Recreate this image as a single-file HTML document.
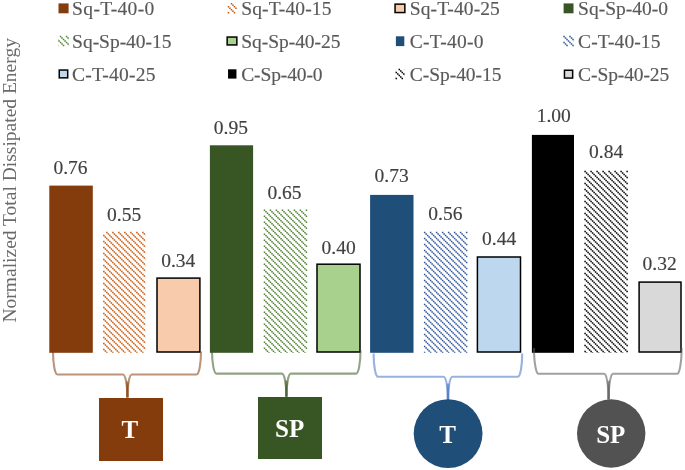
<!DOCTYPE html>
<html><head><meta charset="utf-8"><style>html,body{margin:0;padding:0;background:#fff;overflow:hidden;width:685px;height:470px}svg{display:block;will-change:transform}</style></head>
<body><svg width="685" height="470" viewBox="0 0 685 470" font-family="Liberation Serif">
<defs></defs>
<rect width="685" height="470" fill="#fff"/>
<rect x="49.3" y="185.6" width="43.50" height="167.20" fill="#843C0C"/>
<text x="70.5" y="173.90" text-anchor="middle" font-size="19.5" fill="#404040" stroke="#404040" stroke-width="0.15">0.76</text>
<path fill="#C55A11" d="M106.11 231.83h1.50v1.50h-1.50zM112.11 231.83h1.50v1.50h-1.50zM118.11 231.83h1.50v1.50h-1.50zM124.11 231.83h1.50v1.50h-1.50zM130.11 231.83h1.50v1.50h-1.50zM136.11 231.83h1.50v1.50h-1.50zM142.11 231.83h1.50v1.50h-1.50zM107.61 233.33h1.50v1.50h-1.50zM113.61 233.33h1.50v1.50h-1.50zM119.61 233.33h1.50v1.50h-1.50zM125.61 233.33h1.50v1.50h-1.50zM131.61 233.33h1.50v1.50h-1.50zM137.61 233.33h1.50v1.50h-1.50zM143.61 233.33h1.50v1.50h-1.50zM103.11 234.83h1.50v1.50h-1.50zM109.11 234.83h1.50v1.50h-1.50zM115.11 234.83h1.50v1.50h-1.50zM121.11 234.83h1.50v1.50h-1.50zM127.11 234.83h1.50v1.50h-1.50zM133.11 234.83h1.50v1.50h-1.50zM139.11 234.83h1.50v1.50h-1.50zM145.11 234.83h0.19v1.50h-0.19zM104.61 236.33h1.50v1.50h-1.50zM110.61 236.33h1.50v1.50h-1.50zM116.61 236.33h1.50v1.50h-1.50zM122.61 236.33h1.50v1.50h-1.50zM128.61 236.33h1.50v1.50h-1.50zM134.61 236.33h1.50v1.50h-1.50zM140.61 236.33h1.50v1.50h-1.50zM106.11 237.83h1.50v1.50h-1.50zM112.11 237.83h1.50v1.50h-1.50zM118.11 237.83h1.50v1.50h-1.50zM124.11 237.83h1.50v1.50h-1.50zM130.11 237.83h1.50v1.50h-1.50zM136.11 237.83h1.50v1.50h-1.50zM142.11 237.83h1.50v1.50h-1.50zM107.61 239.33h1.50v1.50h-1.50zM113.61 239.33h1.50v1.50h-1.50zM119.61 239.33h1.50v1.50h-1.50zM125.61 239.33h1.50v1.50h-1.50zM131.61 239.33h1.50v1.50h-1.50zM137.61 239.33h1.50v1.50h-1.50zM143.61 239.33h1.50v1.50h-1.50zM103.11 240.83h1.50v1.50h-1.50zM109.11 240.83h1.50v1.50h-1.50zM115.11 240.83h1.50v1.50h-1.50zM121.11 240.83h1.50v1.50h-1.50zM127.11 240.83h1.50v1.50h-1.50zM133.11 240.83h1.50v1.50h-1.50zM139.11 240.83h1.50v1.50h-1.50zM145.11 240.83h0.19v1.50h-0.19zM104.61 242.33h1.50v1.50h-1.50zM110.61 242.33h1.50v1.50h-1.50zM116.61 242.33h1.50v1.50h-1.50zM122.61 242.33h1.50v1.50h-1.50zM128.61 242.33h1.50v1.50h-1.50zM134.61 242.33h1.50v1.50h-1.50zM140.61 242.33h1.50v1.50h-1.50zM106.11 243.83h1.50v1.50h-1.50zM112.11 243.83h1.50v1.50h-1.50zM118.11 243.83h1.50v1.50h-1.50zM124.11 243.83h1.50v1.50h-1.50zM130.11 243.83h1.50v1.50h-1.50zM136.11 243.83h1.50v1.50h-1.50zM142.11 243.83h1.50v1.50h-1.50zM107.61 245.33h1.50v1.50h-1.50zM113.61 245.33h1.50v1.50h-1.50zM119.61 245.33h1.50v1.50h-1.50zM125.61 245.33h1.50v1.50h-1.50zM131.61 245.33h1.50v1.50h-1.50zM137.61 245.33h1.50v1.50h-1.50zM143.61 245.33h1.50v1.50h-1.50zM103.11 246.83h1.50v1.50h-1.50zM109.11 246.83h1.50v1.50h-1.50zM115.11 246.83h1.50v1.50h-1.50zM121.11 246.83h1.50v1.50h-1.50zM127.11 246.83h1.50v1.50h-1.50zM133.11 246.83h1.50v1.50h-1.50zM139.11 246.83h1.50v1.50h-1.50zM145.11 246.83h0.19v1.50h-0.19zM104.61 248.33h1.50v1.50h-1.50zM110.61 248.33h1.50v1.50h-1.50zM116.61 248.33h1.50v1.50h-1.50zM122.61 248.33h1.50v1.50h-1.50zM128.61 248.33h1.50v1.50h-1.50zM134.61 248.33h1.50v1.50h-1.50zM140.61 248.33h1.50v1.50h-1.50zM106.11 249.83h1.50v1.50h-1.50zM112.11 249.83h1.50v1.50h-1.50zM118.11 249.83h1.50v1.50h-1.50zM124.11 249.83h1.50v1.50h-1.50zM130.11 249.83h1.50v1.50h-1.50zM136.11 249.83h1.50v1.50h-1.50zM142.11 249.83h1.50v1.50h-1.50zM107.61 251.33h1.50v1.50h-1.50zM113.61 251.33h1.50v1.50h-1.50zM119.61 251.33h1.50v1.50h-1.50zM125.61 251.33h1.50v1.50h-1.50zM131.61 251.33h1.50v1.50h-1.50zM137.61 251.33h1.50v1.50h-1.50zM143.61 251.33h1.50v1.50h-1.50zM103.11 252.83h1.50v1.50h-1.50zM109.11 252.83h1.50v1.50h-1.50zM115.11 252.83h1.50v1.50h-1.50zM121.11 252.83h1.50v1.50h-1.50zM127.11 252.83h1.50v1.50h-1.50zM133.11 252.83h1.50v1.50h-1.50zM139.11 252.83h1.50v1.50h-1.50zM145.11 252.83h0.19v1.50h-0.19zM104.61 254.33h1.50v1.50h-1.50zM110.61 254.33h1.50v1.50h-1.50zM116.61 254.33h1.50v1.50h-1.50zM122.61 254.33h1.50v1.50h-1.50zM128.61 254.33h1.50v1.50h-1.50zM134.61 254.33h1.50v1.50h-1.50zM140.61 254.33h1.50v1.50h-1.50zM106.11 255.83h1.50v1.50h-1.50zM112.11 255.83h1.50v1.50h-1.50zM118.11 255.83h1.50v1.50h-1.50zM124.11 255.83h1.50v1.50h-1.50zM130.11 255.83h1.50v1.50h-1.50zM136.11 255.83h1.50v1.50h-1.50zM142.11 255.83h1.50v1.50h-1.50zM107.61 257.33h1.50v1.50h-1.50zM113.61 257.33h1.50v1.50h-1.50zM119.61 257.33h1.50v1.50h-1.50zM125.61 257.33h1.50v1.50h-1.50zM131.61 257.33h1.50v1.50h-1.50zM137.61 257.33h1.50v1.50h-1.50zM143.61 257.33h1.50v1.50h-1.50zM103.11 258.83h1.50v1.50h-1.50zM109.11 258.83h1.50v1.50h-1.50zM115.11 258.83h1.50v1.50h-1.50zM121.11 258.83h1.50v1.50h-1.50zM127.11 258.83h1.50v1.50h-1.50zM133.11 258.83h1.50v1.50h-1.50zM139.11 258.83h1.50v1.50h-1.50zM145.11 258.83h0.19v1.50h-0.19zM104.61 260.33h1.50v1.50h-1.50zM110.61 260.33h1.50v1.50h-1.50zM116.61 260.33h1.50v1.50h-1.50zM122.61 260.33h1.50v1.50h-1.50zM128.61 260.33h1.50v1.50h-1.50zM134.61 260.33h1.50v1.50h-1.50zM140.61 260.33h1.50v1.50h-1.50zM106.11 261.83h1.50v1.50h-1.50zM112.11 261.83h1.50v1.50h-1.50zM118.11 261.83h1.50v1.50h-1.50zM124.11 261.83h1.50v1.50h-1.50zM130.11 261.83h1.50v1.50h-1.50zM136.11 261.83h1.50v1.50h-1.50zM142.11 261.83h1.50v1.50h-1.50zM107.61 263.33h1.50v1.50h-1.50zM113.61 263.33h1.50v1.50h-1.50zM119.61 263.33h1.50v1.50h-1.50zM125.61 263.33h1.50v1.50h-1.50zM131.61 263.33h1.50v1.50h-1.50zM137.61 263.33h1.50v1.50h-1.50zM143.61 263.33h1.50v1.50h-1.50zM103.11 264.83h1.50v1.50h-1.50zM109.11 264.83h1.50v1.50h-1.50zM115.11 264.83h1.50v1.50h-1.50zM121.11 264.83h1.50v1.50h-1.50zM127.11 264.83h1.50v1.50h-1.50zM133.11 264.83h1.50v1.50h-1.50zM139.11 264.83h1.50v1.50h-1.50zM145.11 264.83h0.19v1.50h-0.19zM104.61 266.33h1.50v1.50h-1.50zM110.61 266.33h1.50v1.50h-1.50zM116.61 266.33h1.50v1.50h-1.50zM122.61 266.33h1.50v1.50h-1.50zM128.61 266.33h1.50v1.50h-1.50zM134.61 266.33h1.50v1.50h-1.50zM140.61 266.33h1.50v1.50h-1.50zM106.11 267.83h1.50v1.50h-1.50zM112.11 267.83h1.50v1.50h-1.50zM118.11 267.83h1.50v1.50h-1.50zM124.11 267.83h1.50v1.50h-1.50zM130.11 267.83h1.50v1.50h-1.50zM136.11 267.83h1.50v1.50h-1.50zM142.11 267.83h1.50v1.50h-1.50zM107.61 269.33h1.50v1.50h-1.50zM113.61 269.33h1.50v1.50h-1.50zM119.61 269.33h1.50v1.50h-1.50zM125.61 269.33h1.50v1.50h-1.50zM131.61 269.33h1.50v1.50h-1.50zM137.61 269.33h1.50v1.50h-1.50zM143.61 269.33h1.50v1.50h-1.50zM103.11 270.83h1.50v1.50h-1.50zM109.11 270.83h1.50v1.50h-1.50zM115.11 270.83h1.50v1.50h-1.50zM121.11 270.83h1.50v1.50h-1.50zM127.11 270.83h1.50v1.50h-1.50zM133.11 270.83h1.50v1.50h-1.50zM139.11 270.83h1.50v1.50h-1.50zM145.11 270.83h0.19v1.50h-0.19zM104.61 272.33h1.50v1.50h-1.50zM110.61 272.33h1.50v1.50h-1.50zM116.61 272.33h1.50v1.50h-1.50zM122.61 272.33h1.50v1.50h-1.50zM128.61 272.33h1.50v1.50h-1.50zM134.61 272.33h1.50v1.50h-1.50zM140.61 272.33h1.50v1.50h-1.50zM106.11 273.83h1.50v1.50h-1.50zM112.11 273.83h1.50v1.50h-1.50zM118.11 273.83h1.50v1.50h-1.50zM124.11 273.83h1.50v1.50h-1.50zM130.11 273.83h1.50v1.50h-1.50zM136.11 273.83h1.50v1.50h-1.50zM142.11 273.83h1.50v1.50h-1.50zM107.61 275.33h1.50v1.50h-1.50zM113.61 275.33h1.50v1.50h-1.50zM119.61 275.33h1.50v1.50h-1.50zM125.61 275.33h1.50v1.50h-1.50zM131.61 275.33h1.50v1.50h-1.50zM137.61 275.33h1.50v1.50h-1.50zM143.61 275.33h1.50v1.50h-1.50zM103.11 276.83h1.50v1.50h-1.50zM109.11 276.83h1.50v1.50h-1.50zM115.11 276.83h1.50v1.50h-1.50zM121.11 276.83h1.50v1.50h-1.50zM127.11 276.83h1.50v1.50h-1.50zM133.11 276.83h1.50v1.50h-1.50zM139.11 276.83h1.50v1.50h-1.50zM145.11 276.83h0.19v1.50h-0.19zM104.61 278.33h1.50v1.50h-1.50zM110.61 278.33h1.50v1.50h-1.50zM116.61 278.33h1.50v1.50h-1.50zM122.61 278.33h1.50v1.50h-1.50zM128.61 278.33h1.50v1.50h-1.50zM134.61 278.33h1.50v1.50h-1.50zM140.61 278.33h1.50v1.50h-1.50zM106.11 279.83h1.50v1.50h-1.50zM112.11 279.83h1.50v1.50h-1.50zM118.11 279.83h1.50v1.50h-1.50zM124.11 279.83h1.50v1.50h-1.50zM130.11 279.83h1.50v1.50h-1.50zM136.11 279.83h1.50v1.50h-1.50zM142.11 279.83h1.50v1.50h-1.50zM107.61 281.33h1.50v1.50h-1.50zM113.61 281.33h1.50v1.50h-1.50zM119.61 281.33h1.50v1.50h-1.50zM125.61 281.33h1.50v1.50h-1.50zM131.61 281.33h1.50v1.50h-1.50zM137.61 281.33h1.50v1.50h-1.50zM143.61 281.33h1.50v1.50h-1.50zM103.11 282.83h1.50v1.50h-1.50zM109.11 282.83h1.50v1.50h-1.50zM115.11 282.83h1.50v1.50h-1.50zM121.11 282.83h1.50v1.50h-1.50zM127.11 282.83h1.50v1.50h-1.50zM133.11 282.83h1.50v1.50h-1.50zM139.11 282.83h1.50v1.50h-1.50zM145.11 282.83h0.19v1.50h-0.19zM104.61 284.33h1.50v1.50h-1.50zM110.61 284.33h1.50v1.50h-1.50zM116.61 284.33h1.50v1.50h-1.50zM122.61 284.33h1.50v1.50h-1.50zM128.61 284.33h1.50v1.50h-1.50zM134.61 284.33h1.50v1.50h-1.50zM140.61 284.33h1.50v1.50h-1.50zM106.11 285.83h1.50v1.50h-1.50zM112.11 285.83h1.50v1.50h-1.50zM118.11 285.83h1.50v1.50h-1.50zM124.11 285.83h1.50v1.50h-1.50zM130.11 285.83h1.50v1.50h-1.50zM136.11 285.83h1.50v1.50h-1.50zM142.11 285.83h1.50v1.50h-1.50zM107.61 287.33h1.50v1.50h-1.50zM113.61 287.33h1.50v1.50h-1.50zM119.61 287.33h1.50v1.50h-1.50zM125.61 287.33h1.50v1.50h-1.50zM131.61 287.33h1.50v1.50h-1.50zM137.61 287.33h1.50v1.50h-1.50zM143.61 287.33h1.50v1.50h-1.50zM103.11 288.83h1.50v1.50h-1.50zM109.11 288.83h1.50v1.50h-1.50zM115.11 288.83h1.50v1.50h-1.50zM121.11 288.83h1.50v1.50h-1.50zM127.11 288.83h1.50v1.50h-1.50zM133.11 288.83h1.50v1.50h-1.50zM139.11 288.83h1.50v1.50h-1.50zM145.11 288.83h0.19v1.50h-0.19zM104.61 290.33h1.50v1.50h-1.50zM110.61 290.33h1.50v1.50h-1.50zM116.61 290.33h1.50v1.50h-1.50zM122.61 290.33h1.50v1.50h-1.50zM128.61 290.33h1.50v1.50h-1.50zM134.61 290.33h1.50v1.50h-1.50zM140.61 290.33h1.50v1.50h-1.50zM106.11 291.83h1.50v1.50h-1.50zM112.11 291.83h1.50v1.50h-1.50zM118.11 291.83h1.50v1.50h-1.50zM124.11 291.83h1.50v1.50h-1.50zM130.11 291.83h1.50v1.50h-1.50zM136.11 291.83h1.50v1.50h-1.50zM142.11 291.83h1.50v1.50h-1.50zM107.61 293.33h1.50v1.50h-1.50zM113.61 293.33h1.50v1.50h-1.50zM119.61 293.33h1.50v1.50h-1.50zM125.61 293.33h1.50v1.50h-1.50zM131.61 293.33h1.50v1.50h-1.50zM137.61 293.33h1.50v1.50h-1.50zM143.61 293.33h1.50v1.50h-1.50zM103.11 294.83h1.50v1.50h-1.50zM109.11 294.83h1.50v1.50h-1.50zM115.11 294.83h1.50v1.50h-1.50zM121.11 294.83h1.50v1.50h-1.50zM127.11 294.83h1.50v1.50h-1.50zM133.11 294.83h1.50v1.50h-1.50zM139.11 294.83h1.50v1.50h-1.50zM145.11 294.83h0.19v1.50h-0.19zM104.61 296.33h1.50v1.50h-1.50zM110.61 296.33h1.50v1.50h-1.50zM116.61 296.33h1.50v1.50h-1.50zM122.61 296.33h1.50v1.50h-1.50zM128.61 296.33h1.50v1.50h-1.50zM134.61 296.33h1.50v1.50h-1.50zM140.61 296.33h1.50v1.50h-1.50zM106.11 297.83h1.50v1.50h-1.50zM112.11 297.83h1.50v1.50h-1.50zM118.11 297.83h1.50v1.50h-1.50zM124.11 297.83h1.50v1.50h-1.50zM130.11 297.83h1.50v1.50h-1.50zM136.11 297.83h1.50v1.50h-1.50zM142.11 297.83h1.50v1.50h-1.50zM107.61 299.33h1.50v1.50h-1.50zM113.61 299.33h1.50v1.50h-1.50zM119.61 299.33h1.50v1.50h-1.50zM125.61 299.33h1.50v1.50h-1.50zM131.61 299.33h1.50v1.50h-1.50zM137.61 299.33h1.50v1.50h-1.50zM143.61 299.33h1.50v1.50h-1.50zM103.11 300.83h1.50v1.50h-1.50zM109.11 300.83h1.50v1.50h-1.50zM115.11 300.83h1.50v1.50h-1.50zM121.11 300.83h1.50v1.50h-1.50zM127.11 300.83h1.50v1.50h-1.50zM133.11 300.83h1.50v1.50h-1.50zM139.11 300.83h1.50v1.50h-1.50zM145.11 300.83h0.19v1.50h-0.19zM104.61 302.33h1.50v1.50h-1.50zM110.61 302.33h1.50v1.50h-1.50zM116.61 302.33h1.50v1.50h-1.50zM122.61 302.33h1.50v1.50h-1.50zM128.61 302.33h1.50v1.50h-1.50zM134.61 302.33h1.50v1.50h-1.50zM140.61 302.33h1.50v1.50h-1.50zM106.11 303.83h1.50v1.50h-1.50zM112.11 303.83h1.50v1.50h-1.50zM118.11 303.83h1.50v1.50h-1.50zM124.11 303.83h1.50v1.50h-1.50zM130.11 303.83h1.50v1.50h-1.50zM136.11 303.83h1.50v1.50h-1.50zM142.11 303.83h1.50v1.50h-1.50zM107.61 305.33h1.50v1.50h-1.50zM113.61 305.33h1.50v1.50h-1.50zM119.61 305.33h1.50v1.50h-1.50zM125.61 305.33h1.50v1.50h-1.50zM131.61 305.33h1.50v1.50h-1.50zM137.61 305.33h1.50v1.50h-1.50zM143.61 305.33h1.50v1.50h-1.50zM103.11 306.83h1.50v1.50h-1.50zM109.11 306.83h1.50v1.50h-1.50zM115.11 306.83h1.50v1.50h-1.50zM121.11 306.83h1.50v1.50h-1.50zM127.11 306.83h1.50v1.50h-1.50zM133.11 306.83h1.50v1.50h-1.50zM139.11 306.83h1.50v1.50h-1.50zM145.11 306.83h0.19v1.50h-0.19zM104.61 308.33h1.50v1.50h-1.50zM110.61 308.33h1.50v1.50h-1.50zM116.61 308.33h1.50v1.50h-1.50zM122.61 308.33h1.50v1.50h-1.50zM128.61 308.33h1.50v1.50h-1.50zM134.61 308.33h1.50v1.50h-1.50zM140.61 308.33h1.50v1.50h-1.50zM106.11 309.83h1.50v1.50h-1.50zM112.11 309.83h1.50v1.50h-1.50zM118.11 309.83h1.50v1.50h-1.50zM124.11 309.83h1.50v1.50h-1.50zM130.11 309.83h1.50v1.50h-1.50zM136.11 309.83h1.50v1.50h-1.50zM142.11 309.83h1.50v1.50h-1.50zM107.61 311.33h1.50v1.50h-1.50zM113.61 311.33h1.50v1.50h-1.50zM119.61 311.33h1.50v1.50h-1.50zM125.61 311.33h1.50v1.50h-1.50zM131.61 311.33h1.50v1.50h-1.50zM137.61 311.33h1.50v1.50h-1.50zM143.61 311.33h1.50v1.50h-1.50zM103.11 312.83h1.50v1.50h-1.50zM109.11 312.83h1.50v1.50h-1.50zM115.11 312.83h1.50v1.50h-1.50zM121.11 312.83h1.50v1.50h-1.50zM127.11 312.83h1.50v1.50h-1.50zM133.11 312.83h1.50v1.50h-1.50zM139.11 312.83h1.50v1.50h-1.50zM145.11 312.83h0.19v1.50h-0.19zM104.61 314.33h1.50v1.50h-1.50zM110.61 314.33h1.50v1.50h-1.50zM116.61 314.33h1.50v1.50h-1.50zM122.61 314.33h1.50v1.50h-1.50zM128.61 314.33h1.50v1.50h-1.50zM134.61 314.33h1.50v1.50h-1.50zM140.61 314.33h1.50v1.50h-1.50zM106.11 315.83h1.50v1.50h-1.50zM112.11 315.83h1.50v1.50h-1.50zM118.11 315.83h1.50v1.50h-1.50zM124.11 315.83h1.50v1.50h-1.50zM130.11 315.83h1.50v1.50h-1.50zM136.11 315.83h1.50v1.50h-1.50zM142.11 315.83h1.50v1.50h-1.50zM107.61 317.33h1.50v1.50h-1.50zM113.61 317.33h1.50v1.50h-1.50zM119.61 317.33h1.50v1.50h-1.50zM125.61 317.33h1.50v1.50h-1.50zM131.61 317.33h1.50v1.50h-1.50zM137.61 317.33h1.50v1.50h-1.50zM143.61 317.33h1.50v1.50h-1.50zM103.11 318.83h1.50v1.50h-1.50zM109.11 318.83h1.50v1.50h-1.50zM115.11 318.83h1.50v1.50h-1.50zM121.11 318.83h1.50v1.50h-1.50zM127.11 318.83h1.50v1.50h-1.50zM133.11 318.83h1.50v1.50h-1.50zM139.11 318.83h1.50v1.50h-1.50zM145.11 318.83h0.19v1.50h-0.19zM104.61 320.33h1.50v1.50h-1.50zM110.61 320.33h1.50v1.50h-1.50zM116.61 320.33h1.50v1.50h-1.50zM122.61 320.33h1.50v1.50h-1.50zM128.61 320.33h1.50v1.50h-1.50zM134.61 320.33h1.50v1.50h-1.50zM140.61 320.33h1.50v1.50h-1.50zM106.11 321.83h1.50v1.50h-1.50zM112.11 321.83h1.50v1.50h-1.50zM118.11 321.83h1.50v1.50h-1.50zM124.11 321.83h1.50v1.50h-1.50zM130.11 321.83h1.50v1.50h-1.50zM136.11 321.83h1.50v1.50h-1.50zM142.11 321.83h1.50v1.50h-1.50zM107.61 323.33h1.50v1.50h-1.50zM113.61 323.33h1.50v1.50h-1.50zM119.61 323.33h1.50v1.50h-1.50zM125.61 323.33h1.50v1.50h-1.50zM131.61 323.33h1.50v1.50h-1.50zM137.61 323.33h1.50v1.50h-1.50zM143.61 323.33h1.50v1.50h-1.50zM103.11 324.83h1.50v1.50h-1.50zM109.11 324.83h1.50v1.50h-1.50zM115.11 324.83h1.50v1.50h-1.50zM121.11 324.83h1.50v1.50h-1.50zM127.11 324.83h1.50v1.50h-1.50zM133.11 324.83h1.50v1.50h-1.50zM139.11 324.83h1.50v1.50h-1.50zM145.11 324.83h0.19v1.50h-0.19zM104.61 326.33h1.50v1.50h-1.50zM110.61 326.33h1.50v1.50h-1.50zM116.61 326.33h1.50v1.50h-1.50zM122.61 326.33h1.50v1.50h-1.50zM128.61 326.33h1.50v1.50h-1.50zM134.61 326.33h1.50v1.50h-1.50zM140.61 326.33h1.50v1.50h-1.50zM106.11 327.83h1.50v1.50h-1.50zM112.11 327.83h1.50v1.50h-1.50zM118.11 327.83h1.50v1.50h-1.50zM124.11 327.83h1.50v1.50h-1.50zM130.11 327.83h1.50v1.50h-1.50zM136.11 327.83h1.50v1.50h-1.50zM142.11 327.83h1.50v1.50h-1.50zM107.61 329.33h1.50v1.50h-1.50zM113.61 329.33h1.50v1.50h-1.50zM119.61 329.33h1.50v1.50h-1.50zM125.61 329.33h1.50v1.50h-1.50zM131.61 329.33h1.50v1.50h-1.50zM137.61 329.33h1.50v1.50h-1.50zM143.61 329.33h1.50v1.50h-1.50zM103.11 330.83h1.50v1.50h-1.50zM109.11 330.83h1.50v1.50h-1.50zM115.11 330.83h1.50v1.50h-1.50zM121.11 330.83h1.50v1.50h-1.50zM127.11 330.83h1.50v1.50h-1.50zM133.11 330.83h1.50v1.50h-1.50zM139.11 330.83h1.50v1.50h-1.50zM145.11 330.83h0.19v1.50h-0.19zM104.61 332.33h1.50v1.50h-1.50zM110.61 332.33h1.50v1.50h-1.50zM116.61 332.33h1.50v1.50h-1.50zM122.61 332.33h1.50v1.50h-1.50zM128.61 332.33h1.50v1.50h-1.50zM134.61 332.33h1.50v1.50h-1.50zM140.61 332.33h1.50v1.50h-1.50zM106.11 333.83h1.50v1.50h-1.50zM112.11 333.83h1.50v1.50h-1.50zM118.11 333.83h1.50v1.50h-1.50zM124.11 333.83h1.50v1.50h-1.50zM130.11 333.83h1.50v1.50h-1.50zM136.11 333.83h1.50v1.50h-1.50zM142.11 333.83h1.50v1.50h-1.50zM107.61 335.33h1.50v1.50h-1.50zM113.61 335.33h1.50v1.50h-1.50zM119.61 335.33h1.50v1.50h-1.50zM125.61 335.33h1.50v1.50h-1.50zM131.61 335.33h1.50v1.50h-1.50zM137.61 335.33h1.50v1.50h-1.50zM143.61 335.33h1.50v1.50h-1.50zM103.11 336.83h1.50v1.50h-1.50zM109.11 336.83h1.50v1.50h-1.50zM115.11 336.83h1.50v1.50h-1.50zM121.11 336.83h1.50v1.50h-1.50zM127.11 336.83h1.50v1.50h-1.50zM133.11 336.83h1.50v1.50h-1.50zM139.11 336.83h1.50v1.50h-1.50zM145.11 336.83h0.19v1.50h-0.19zM104.61 338.33h1.50v1.50h-1.50zM110.61 338.33h1.50v1.50h-1.50zM116.61 338.33h1.50v1.50h-1.50zM122.61 338.33h1.50v1.50h-1.50zM128.61 338.33h1.50v1.50h-1.50zM134.61 338.33h1.50v1.50h-1.50zM140.61 338.33h1.50v1.50h-1.50zM106.11 339.83h1.50v1.50h-1.50zM112.11 339.83h1.50v1.50h-1.50zM118.11 339.83h1.50v1.50h-1.50zM124.11 339.83h1.50v1.50h-1.50zM130.11 339.83h1.50v1.50h-1.50zM136.11 339.83h1.50v1.50h-1.50zM142.11 339.83h1.50v1.50h-1.50zM107.61 341.33h1.50v1.50h-1.50zM113.61 341.33h1.50v1.50h-1.50zM119.61 341.33h1.50v1.50h-1.50zM125.61 341.33h1.50v1.50h-1.50zM131.61 341.33h1.50v1.50h-1.50zM137.61 341.33h1.50v1.50h-1.50zM143.61 341.33h1.50v1.50h-1.50zM103.11 342.83h1.50v1.50h-1.50zM109.11 342.83h1.50v1.50h-1.50zM115.11 342.83h1.50v1.50h-1.50zM121.11 342.83h1.50v1.50h-1.50zM127.11 342.83h1.50v1.50h-1.50zM133.11 342.83h1.50v1.50h-1.50zM139.11 342.83h1.50v1.50h-1.50zM145.11 342.83h0.19v1.50h-0.19zM104.61 344.33h1.50v1.50h-1.50zM110.61 344.33h1.50v1.50h-1.50zM116.61 344.33h1.50v1.50h-1.50zM122.61 344.33h1.50v1.50h-1.50zM128.61 344.33h1.50v1.50h-1.50zM134.61 344.33h1.50v1.50h-1.50zM140.61 344.33h1.50v1.50h-1.50zM106.11 345.83h1.50v1.50h-1.50zM112.11 345.83h1.50v1.50h-1.50zM118.11 345.83h1.50v1.50h-1.50zM124.11 345.83h1.50v1.50h-1.50zM130.11 345.83h1.50v1.50h-1.50zM136.11 345.83h1.50v1.50h-1.50zM142.11 345.83h1.50v1.50h-1.50zM107.61 347.33h1.50v1.50h-1.50zM113.61 347.33h1.50v1.50h-1.50zM119.61 347.33h1.50v1.50h-1.50zM125.61 347.33h1.50v1.50h-1.50zM131.61 347.33h1.50v1.50h-1.50zM137.61 347.33h1.50v1.50h-1.50zM143.61 347.33h1.50v1.50h-1.50zM103.11 348.83h1.50v1.50h-1.50zM109.11 348.83h1.50v1.50h-1.50zM115.11 348.83h1.50v1.50h-1.50zM121.11 348.83h1.50v1.50h-1.50zM127.11 348.83h1.50v1.50h-1.50zM133.11 348.83h1.50v1.50h-1.50zM139.11 348.83h1.50v1.50h-1.50zM145.11 348.83h0.19v1.50h-0.19zM104.61 350.33h1.50v1.50h-1.50zM110.61 350.33h1.50v1.50h-1.50zM116.61 350.33h1.50v1.50h-1.50zM122.61 350.33h1.50v1.50h-1.50zM128.61 350.33h1.50v1.50h-1.50zM134.61 350.33h1.50v1.50h-1.50zM140.61 350.33h1.50v1.50h-1.50zM106.11 351.83h1.50v0.97h-1.50zM112.11 351.83h1.50v0.97h-1.50zM118.11 351.83h1.50v0.97h-1.50zM124.11 351.83h1.50v0.97h-1.50zM130.11 351.83h1.50v0.97h-1.50zM136.11 351.83h1.50v0.97h-1.50zM142.11 351.83h1.50v0.97h-1.50z"/>
<text x="124.1" y="221.40" text-anchor="middle" font-size="19.5" fill="#404040" stroke="#404040" stroke-width="0.15">0.55</text>
<rect x="157.00" y="278.10" width="42.90" height="73.90" fill="#F8CBAD" stroke="#000" stroke-width="1.5"/>
<text x="178.2" y="267.00" text-anchor="middle" font-size="19.5" fill="#404040" stroke="#404040" stroke-width="0.15">0.34</text>
<rect x="209.9" y="145.3" width="43.20" height="207.50" fill="#375623"/>
<text x="230.9" y="134.40" text-anchor="middle" font-size="19.5" fill="#404040" stroke="#404040" stroke-width="0.15">0.95</text>
<path fill="#548235" d="M263.72 209.50h1.50v1.47h-1.50zM269.72 209.50h1.50v1.47h-1.50zM275.72 209.50h1.50v1.47h-1.50zM281.72 209.50h1.50v1.47h-1.50zM287.72 209.50h1.50v1.47h-1.50zM293.72 209.50h1.50v1.47h-1.50zM299.72 209.50h1.50v1.47h-1.50zM305.72 209.50h1.48v1.47h-1.48zM265.22 210.97h1.50v1.50h-1.50zM271.22 210.97h1.50v1.50h-1.50zM277.22 210.97h1.50v1.50h-1.50zM283.22 210.97h1.50v1.50h-1.50zM289.22 210.97h1.50v1.50h-1.50zM295.22 210.97h1.50v1.50h-1.50zM301.22 210.97h1.50v1.50h-1.50zM266.72 212.47h1.50v1.50h-1.50zM272.72 212.47h1.50v1.50h-1.50zM278.72 212.47h1.50v1.50h-1.50zM284.72 212.47h1.50v1.50h-1.50zM290.72 212.47h1.50v1.50h-1.50zM296.72 212.47h1.50v1.50h-1.50zM302.72 212.47h1.50v1.50h-1.50zM268.22 213.97h1.50v1.50h-1.50zM274.22 213.97h1.50v1.50h-1.50zM280.22 213.97h1.50v1.50h-1.50zM286.22 213.97h1.50v1.50h-1.50zM292.22 213.97h1.50v1.50h-1.50zM298.22 213.97h1.50v1.50h-1.50zM304.22 213.97h1.50v1.50h-1.50zM263.72 215.47h1.50v1.50h-1.50zM269.72 215.47h1.50v1.50h-1.50zM275.72 215.47h1.50v1.50h-1.50zM281.72 215.47h1.50v1.50h-1.50zM287.72 215.47h1.50v1.50h-1.50zM293.72 215.47h1.50v1.50h-1.50zM299.72 215.47h1.50v1.50h-1.50zM305.72 215.47h1.48v1.50h-1.48zM265.22 216.97h1.50v1.50h-1.50zM271.22 216.97h1.50v1.50h-1.50zM277.22 216.97h1.50v1.50h-1.50zM283.22 216.97h1.50v1.50h-1.50zM289.22 216.97h1.50v1.50h-1.50zM295.22 216.97h1.50v1.50h-1.50zM301.22 216.97h1.50v1.50h-1.50zM266.72 218.47h1.50v1.50h-1.50zM272.72 218.47h1.50v1.50h-1.50zM278.72 218.47h1.50v1.50h-1.50zM284.72 218.47h1.50v1.50h-1.50zM290.72 218.47h1.50v1.50h-1.50zM296.72 218.47h1.50v1.50h-1.50zM302.72 218.47h1.50v1.50h-1.50zM268.22 219.97h1.50v1.50h-1.50zM274.22 219.97h1.50v1.50h-1.50zM280.22 219.97h1.50v1.50h-1.50zM286.22 219.97h1.50v1.50h-1.50zM292.22 219.97h1.50v1.50h-1.50zM298.22 219.97h1.50v1.50h-1.50zM304.22 219.97h1.50v1.50h-1.50zM263.72 221.47h1.50v1.50h-1.50zM269.72 221.47h1.50v1.50h-1.50zM275.72 221.47h1.50v1.50h-1.50zM281.72 221.47h1.50v1.50h-1.50zM287.72 221.47h1.50v1.50h-1.50zM293.72 221.47h1.50v1.50h-1.50zM299.72 221.47h1.50v1.50h-1.50zM305.72 221.47h1.48v1.50h-1.48zM265.22 222.97h1.50v1.50h-1.50zM271.22 222.97h1.50v1.50h-1.50zM277.22 222.97h1.50v1.50h-1.50zM283.22 222.97h1.50v1.50h-1.50zM289.22 222.97h1.50v1.50h-1.50zM295.22 222.97h1.50v1.50h-1.50zM301.22 222.97h1.50v1.50h-1.50zM266.72 224.47h1.50v1.50h-1.50zM272.72 224.47h1.50v1.50h-1.50zM278.72 224.47h1.50v1.50h-1.50zM284.72 224.47h1.50v1.50h-1.50zM290.72 224.47h1.50v1.50h-1.50zM296.72 224.47h1.50v1.50h-1.50zM302.72 224.47h1.50v1.50h-1.50zM268.22 225.97h1.50v1.50h-1.50zM274.22 225.97h1.50v1.50h-1.50zM280.22 225.97h1.50v1.50h-1.50zM286.22 225.97h1.50v1.50h-1.50zM292.22 225.97h1.50v1.50h-1.50zM298.22 225.97h1.50v1.50h-1.50zM304.22 225.97h1.50v1.50h-1.50zM263.72 227.47h1.50v1.50h-1.50zM269.72 227.47h1.50v1.50h-1.50zM275.72 227.47h1.50v1.50h-1.50zM281.72 227.47h1.50v1.50h-1.50zM287.72 227.47h1.50v1.50h-1.50zM293.72 227.47h1.50v1.50h-1.50zM299.72 227.47h1.50v1.50h-1.50zM305.72 227.47h1.48v1.50h-1.48zM265.22 228.97h1.50v1.50h-1.50zM271.22 228.97h1.50v1.50h-1.50zM277.22 228.97h1.50v1.50h-1.50zM283.22 228.97h1.50v1.50h-1.50zM289.22 228.97h1.50v1.50h-1.50zM295.22 228.97h1.50v1.50h-1.50zM301.22 228.97h1.50v1.50h-1.50zM266.72 230.47h1.50v1.50h-1.50zM272.72 230.47h1.50v1.50h-1.50zM278.72 230.47h1.50v1.50h-1.50zM284.72 230.47h1.50v1.50h-1.50zM290.72 230.47h1.50v1.50h-1.50zM296.72 230.47h1.50v1.50h-1.50zM302.72 230.47h1.50v1.50h-1.50zM268.22 231.97h1.50v1.50h-1.50zM274.22 231.97h1.50v1.50h-1.50zM280.22 231.97h1.50v1.50h-1.50zM286.22 231.97h1.50v1.50h-1.50zM292.22 231.97h1.50v1.50h-1.50zM298.22 231.97h1.50v1.50h-1.50zM304.22 231.97h1.50v1.50h-1.50zM263.72 233.47h1.50v1.50h-1.50zM269.72 233.47h1.50v1.50h-1.50zM275.72 233.47h1.50v1.50h-1.50zM281.72 233.47h1.50v1.50h-1.50zM287.72 233.47h1.50v1.50h-1.50zM293.72 233.47h1.50v1.50h-1.50zM299.72 233.47h1.50v1.50h-1.50zM305.72 233.47h1.48v1.50h-1.48zM265.22 234.97h1.50v1.50h-1.50zM271.22 234.97h1.50v1.50h-1.50zM277.22 234.97h1.50v1.50h-1.50zM283.22 234.97h1.50v1.50h-1.50zM289.22 234.97h1.50v1.50h-1.50zM295.22 234.97h1.50v1.50h-1.50zM301.22 234.97h1.50v1.50h-1.50zM266.72 236.47h1.50v1.50h-1.50zM272.72 236.47h1.50v1.50h-1.50zM278.72 236.47h1.50v1.50h-1.50zM284.72 236.47h1.50v1.50h-1.50zM290.72 236.47h1.50v1.50h-1.50zM296.72 236.47h1.50v1.50h-1.50zM302.72 236.47h1.50v1.50h-1.50zM268.22 237.97h1.50v1.50h-1.50zM274.22 237.97h1.50v1.50h-1.50zM280.22 237.97h1.50v1.50h-1.50zM286.22 237.97h1.50v1.50h-1.50zM292.22 237.97h1.50v1.50h-1.50zM298.22 237.97h1.50v1.50h-1.50zM304.22 237.97h1.50v1.50h-1.50zM263.72 239.47h1.50v1.50h-1.50zM269.72 239.47h1.50v1.50h-1.50zM275.72 239.47h1.50v1.50h-1.50zM281.72 239.47h1.50v1.50h-1.50zM287.72 239.47h1.50v1.50h-1.50zM293.72 239.47h1.50v1.50h-1.50zM299.72 239.47h1.50v1.50h-1.50zM305.72 239.47h1.48v1.50h-1.48zM265.22 240.97h1.50v1.50h-1.50zM271.22 240.97h1.50v1.50h-1.50zM277.22 240.97h1.50v1.50h-1.50zM283.22 240.97h1.50v1.50h-1.50zM289.22 240.97h1.50v1.50h-1.50zM295.22 240.97h1.50v1.50h-1.50zM301.22 240.97h1.50v1.50h-1.50zM266.72 242.47h1.50v1.50h-1.50zM272.72 242.47h1.50v1.50h-1.50zM278.72 242.47h1.50v1.50h-1.50zM284.72 242.47h1.50v1.50h-1.50zM290.72 242.47h1.50v1.50h-1.50zM296.72 242.47h1.50v1.50h-1.50zM302.72 242.47h1.50v1.50h-1.50zM268.22 243.97h1.50v1.50h-1.50zM274.22 243.97h1.50v1.50h-1.50zM280.22 243.97h1.50v1.50h-1.50zM286.22 243.97h1.50v1.50h-1.50zM292.22 243.97h1.50v1.50h-1.50zM298.22 243.97h1.50v1.50h-1.50zM304.22 243.97h1.50v1.50h-1.50zM263.72 245.47h1.50v1.50h-1.50zM269.72 245.47h1.50v1.50h-1.50zM275.72 245.47h1.50v1.50h-1.50zM281.72 245.47h1.50v1.50h-1.50zM287.72 245.47h1.50v1.50h-1.50zM293.72 245.47h1.50v1.50h-1.50zM299.72 245.47h1.50v1.50h-1.50zM305.72 245.47h1.48v1.50h-1.48zM265.22 246.97h1.50v1.50h-1.50zM271.22 246.97h1.50v1.50h-1.50zM277.22 246.97h1.50v1.50h-1.50zM283.22 246.97h1.50v1.50h-1.50zM289.22 246.97h1.50v1.50h-1.50zM295.22 246.97h1.50v1.50h-1.50zM301.22 246.97h1.50v1.50h-1.50zM266.72 248.47h1.50v1.50h-1.50zM272.72 248.47h1.50v1.50h-1.50zM278.72 248.47h1.50v1.50h-1.50zM284.72 248.47h1.50v1.50h-1.50zM290.72 248.47h1.50v1.50h-1.50zM296.72 248.47h1.50v1.50h-1.50zM302.72 248.47h1.50v1.50h-1.50zM268.22 249.97h1.50v1.50h-1.50zM274.22 249.97h1.50v1.50h-1.50zM280.22 249.97h1.50v1.50h-1.50zM286.22 249.97h1.50v1.50h-1.50zM292.22 249.97h1.50v1.50h-1.50zM298.22 249.97h1.50v1.50h-1.50zM304.22 249.97h1.50v1.50h-1.50zM263.72 251.47h1.50v1.50h-1.50zM269.72 251.47h1.50v1.50h-1.50zM275.72 251.47h1.50v1.50h-1.50zM281.72 251.47h1.50v1.50h-1.50zM287.72 251.47h1.50v1.50h-1.50zM293.72 251.47h1.50v1.50h-1.50zM299.72 251.47h1.50v1.50h-1.50zM305.72 251.47h1.48v1.50h-1.48zM265.22 252.97h1.50v1.50h-1.50zM271.22 252.97h1.50v1.50h-1.50zM277.22 252.97h1.50v1.50h-1.50zM283.22 252.97h1.50v1.50h-1.50zM289.22 252.97h1.50v1.50h-1.50zM295.22 252.97h1.50v1.50h-1.50zM301.22 252.97h1.50v1.50h-1.50zM266.72 254.47h1.50v1.50h-1.50zM272.72 254.47h1.50v1.50h-1.50zM278.72 254.47h1.50v1.50h-1.50zM284.72 254.47h1.50v1.50h-1.50zM290.72 254.47h1.50v1.50h-1.50zM296.72 254.47h1.50v1.50h-1.50zM302.72 254.47h1.50v1.50h-1.50zM268.22 255.97h1.50v1.50h-1.50zM274.22 255.97h1.50v1.50h-1.50zM280.22 255.97h1.50v1.50h-1.50zM286.22 255.97h1.50v1.50h-1.50zM292.22 255.97h1.50v1.50h-1.50zM298.22 255.97h1.50v1.50h-1.50zM304.22 255.97h1.50v1.50h-1.50zM263.72 257.47h1.50v1.50h-1.50zM269.72 257.47h1.50v1.50h-1.50zM275.72 257.47h1.50v1.50h-1.50zM281.72 257.47h1.50v1.50h-1.50zM287.72 257.47h1.50v1.50h-1.50zM293.72 257.47h1.50v1.50h-1.50zM299.72 257.47h1.50v1.50h-1.50zM305.72 257.47h1.48v1.50h-1.48zM265.22 258.97h1.50v1.50h-1.50zM271.22 258.97h1.50v1.50h-1.50zM277.22 258.97h1.50v1.50h-1.50zM283.22 258.97h1.50v1.50h-1.50zM289.22 258.97h1.50v1.50h-1.50zM295.22 258.97h1.50v1.50h-1.50zM301.22 258.97h1.50v1.50h-1.50zM266.72 260.47h1.50v1.50h-1.50zM272.72 260.47h1.50v1.50h-1.50zM278.72 260.47h1.50v1.50h-1.50zM284.72 260.47h1.50v1.50h-1.50zM290.72 260.47h1.50v1.50h-1.50zM296.72 260.47h1.50v1.50h-1.50zM302.72 260.47h1.50v1.50h-1.50zM268.22 261.97h1.50v1.50h-1.50zM274.22 261.97h1.50v1.50h-1.50zM280.22 261.97h1.50v1.50h-1.50zM286.22 261.97h1.50v1.50h-1.50zM292.22 261.97h1.50v1.50h-1.50zM298.22 261.97h1.50v1.50h-1.50zM304.22 261.97h1.50v1.50h-1.50zM263.72 263.47h1.50v1.50h-1.50zM269.72 263.47h1.50v1.50h-1.50zM275.72 263.47h1.50v1.50h-1.50zM281.72 263.47h1.50v1.50h-1.50zM287.72 263.47h1.50v1.50h-1.50zM293.72 263.47h1.50v1.50h-1.50zM299.72 263.47h1.50v1.50h-1.50zM305.72 263.47h1.48v1.50h-1.48zM265.22 264.97h1.50v1.50h-1.50zM271.22 264.97h1.50v1.50h-1.50zM277.22 264.97h1.50v1.50h-1.50zM283.22 264.97h1.50v1.50h-1.50zM289.22 264.97h1.50v1.50h-1.50zM295.22 264.97h1.50v1.50h-1.50zM301.22 264.97h1.50v1.50h-1.50zM266.72 266.47h1.50v1.50h-1.50zM272.72 266.47h1.50v1.50h-1.50zM278.72 266.47h1.50v1.50h-1.50zM284.72 266.47h1.50v1.50h-1.50zM290.72 266.47h1.50v1.50h-1.50zM296.72 266.47h1.50v1.50h-1.50zM302.72 266.47h1.50v1.50h-1.50zM268.22 267.97h1.50v1.50h-1.50zM274.22 267.97h1.50v1.50h-1.50zM280.22 267.97h1.50v1.50h-1.50zM286.22 267.97h1.50v1.50h-1.50zM292.22 267.97h1.50v1.50h-1.50zM298.22 267.97h1.50v1.50h-1.50zM304.22 267.97h1.50v1.50h-1.50zM263.72 269.47h1.50v1.50h-1.50zM269.72 269.47h1.50v1.50h-1.50zM275.72 269.47h1.50v1.50h-1.50zM281.72 269.47h1.50v1.50h-1.50zM287.72 269.47h1.50v1.50h-1.50zM293.72 269.47h1.50v1.50h-1.50zM299.72 269.47h1.50v1.50h-1.50zM305.72 269.47h1.48v1.50h-1.48zM265.22 270.97h1.50v1.50h-1.50zM271.22 270.97h1.50v1.50h-1.50zM277.22 270.97h1.50v1.50h-1.50zM283.22 270.97h1.50v1.50h-1.50zM289.22 270.97h1.50v1.50h-1.50zM295.22 270.97h1.50v1.50h-1.50zM301.22 270.97h1.50v1.50h-1.50zM266.72 272.47h1.50v1.50h-1.50zM272.72 272.47h1.50v1.50h-1.50zM278.72 272.47h1.50v1.50h-1.50zM284.72 272.47h1.50v1.50h-1.50zM290.72 272.47h1.50v1.50h-1.50zM296.72 272.47h1.50v1.50h-1.50zM302.72 272.47h1.50v1.50h-1.50zM268.22 273.97h1.50v1.50h-1.50zM274.22 273.97h1.50v1.50h-1.50zM280.22 273.97h1.50v1.50h-1.50zM286.22 273.97h1.50v1.50h-1.50zM292.22 273.97h1.50v1.50h-1.50zM298.22 273.97h1.50v1.50h-1.50zM304.22 273.97h1.50v1.50h-1.50zM263.72 275.47h1.50v1.50h-1.50zM269.72 275.47h1.50v1.50h-1.50zM275.72 275.47h1.50v1.50h-1.50zM281.72 275.47h1.50v1.50h-1.50zM287.72 275.47h1.50v1.50h-1.50zM293.72 275.47h1.50v1.50h-1.50zM299.72 275.47h1.50v1.50h-1.50zM305.72 275.47h1.48v1.50h-1.48zM265.22 276.97h1.50v1.50h-1.50zM271.22 276.97h1.50v1.50h-1.50zM277.22 276.97h1.50v1.50h-1.50zM283.22 276.97h1.50v1.50h-1.50zM289.22 276.97h1.50v1.50h-1.50zM295.22 276.97h1.50v1.50h-1.50zM301.22 276.97h1.50v1.50h-1.50zM266.72 278.47h1.50v1.50h-1.50zM272.72 278.47h1.50v1.50h-1.50zM278.72 278.47h1.50v1.50h-1.50zM284.72 278.47h1.50v1.50h-1.50zM290.72 278.47h1.50v1.50h-1.50zM296.72 278.47h1.50v1.50h-1.50zM302.72 278.47h1.50v1.50h-1.50zM268.22 279.97h1.50v1.50h-1.50zM274.22 279.97h1.50v1.50h-1.50zM280.22 279.97h1.50v1.50h-1.50zM286.22 279.97h1.50v1.50h-1.50zM292.22 279.97h1.50v1.50h-1.50zM298.22 279.97h1.50v1.50h-1.50zM304.22 279.97h1.50v1.50h-1.50zM263.72 281.47h1.50v1.50h-1.50zM269.72 281.47h1.50v1.50h-1.50zM275.72 281.47h1.50v1.50h-1.50zM281.72 281.47h1.50v1.50h-1.50zM287.72 281.47h1.50v1.50h-1.50zM293.72 281.47h1.50v1.50h-1.50zM299.72 281.47h1.50v1.50h-1.50zM305.72 281.47h1.48v1.50h-1.48zM265.22 282.97h1.50v1.50h-1.50zM271.22 282.97h1.50v1.50h-1.50zM277.22 282.97h1.50v1.50h-1.50zM283.22 282.97h1.50v1.50h-1.50zM289.22 282.97h1.50v1.50h-1.50zM295.22 282.97h1.50v1.50h-1.50zM301.22 282.97h1.50v1.50h-1.50zM266.72 284.47h1.50v1.50h-1.50zM272.72 284.47h1.50v1.50h-1.50zM278.72 284.47h1.50v1.50h-1.50zM284.72 284.47h1.50v1.50h-1.50zM290.72 284.47h1.50v1.50h-1.50zM296.72 284.47h1.50v1.50h-1.50zM302.72 284.47h1.50v1.50h-1.50zM268.22 285.97h1.50v1.50h-1.50zM274.22 285.97h1.50v1.50h-1.50zM280.22 285.97h1.50v1.50h-1.50zM286.22 285.97h1.50v1.50h-1.50zM292.22 285.97h1.50v1.50h-1.50zM298.22 285.97h1.50v1.50h-1.50zM304.22 285.97h1.50v1.50h-1.50zM263.72 287.47h1.50v1.50h-1.50zM269.72 287.47h1.50v1.50h-1.50zM275.72 287.47h1.50v1.50h-1.50zM281.72 287.47h1.50v1.50h-1.50zM287.72 287.47h1.50v1.50h-1.50zM293.72 287.47h1.50v1.50h-1.50zM299.72 287.47h1.50v1.50h-1.50zM305.72 287.47h1.48v1.50h-1.48zM265.22 288.97h1.50v1.50h-1.50zM271.22 288.97h1.50v1.50h-1.50zM277.22 288.97h1.50v1.50h-1.50zM283.22 288.97h1.50v1.50h-1.50zM289.22 288.97h1.50v1.50h-1.50zM295.22 288.97h1.50v1.50h-1.50zM301.22 288.97h1.50v1.50h-1.50zM266.72 290.47h1.50v1.50h-1.50zM272.72 290.47h1.50v1.50h-1.50zM278.72 290.47h1.50v1.50h-1.50zM284.72 290.47h1.50v1.50h-1.50zM290.72 290.47h1.50v1.50h-1.50zM296.72 290.47h1.50v1.50h-1.50zM302.72 290.47h1.50v1.50h-1.50zM268.22 291.97h1.50v1.50h-1.50zM274.22 291.97h1.50v1.50h-1.50zM280.22 291.97h1.50v1.50h-1.50zM286.22 291.97h1.50v1.50h-1.50zM292.22 291.97h1.50v1.50h-1.50zM298.22 291.97h1.50v1.50h-1.50zM304.22 291.97h1.50v1.50h-1.50zM263.72 293.47h1.50v1.50h-1.50zM269.72 293.47h1.50v1.50h-1.50zM275.72 293.47h1.50v1.50h-1.50zM281.72 293.47h1.50v1.50h-1.50zM287.72 293.47h1.50v1.50h-1.50zM293.72 293.47h1.50v1.50h-1.50zM299.72 293.47h1.50v1.50h-1.50zM305.72 293.47h1.48v1.50h-1.48zM265.22 294.97h1.50v1.50h-1.50zM271.22 294.97h1.50v1.50h-1.50zM277.22 294.97h1.50v1.50h-1.50zM283.22 294.97h1.50v1.50h-1.50zM289.22 294.97h1.50v1.50h-1.50zM295.22 294.97h1.50v1.50h-1.50zM301.22 294.97h1.50v1.50h-1.50zM266.72 296.47h1.50v1.50h-1.50zM272.72 296.47h1.50v1.50h-1.50zM278.72 296.47h1.50v1.50h-1.50zM284.72 296.47h1.50v1.50h-1.50zM290.72 296.47h1.50v1.50h-1.50zM296.72 296.47h1.50v1.50h-1.50zM302.72 296.47h1.50v1.50h-1.50zM268.22 297.97h1.50v1.50h-1.50zM274.22 297.97h1.50v1.50h-1.50zM280.22 297.97h1.50v1.50h-1.50zM286.22 297.97h1.50v1.50h-1.50zM292.22 297.97h1.50v1.50h-1.50zM298.22 297.97h1.50v1.50h-1.50zM304.22 297.97h1.50v1.50h-1.50zM263.72 299.47h1.50v1.50h-1.50zM269.72 299.47h1.50v1.50h-1.50zM275.72 299.47h1.50v1.50h-1.50zM281.72 299.47h1.50v1.50h-1.50zM287.72 299.47h1.50v1.50h-1.50zM293.72 299.47h1.50v1.50h-1.50zM299.72 299.47h1.50v1.50h-1.50zM305.72 299.47h1.48v1.50h-1.48zM265.22 300.97h1.50v1.50h-1.50zM271.22 300.97h1.50v1.50h-1.50zM277.22 300.97h1.50v1.50h-1.50zM283.22 300.97h1.50v1.50h-1.50zM289.22 300.97h1.50v1.50h-1.50zM295.22 300.97h1.50v1.50h-1.50zM301.22 300.97h1.50v1.50h-1.50zM266.72 302.47h1.50v1.50h-1.50zM272.72 302.47h1.50v1.50h-1.50zM278.72 302.47h1.50v1.50h-1.50zM284.72 302.47h1.50v1.50h-1.50zM290.72 302.47h1.50v1.50h-1.50zM296.72 302.47h1.50v1.50h-1.50zM302.72 302.47h1.50v1.50h-1.50zM268.22 303.97h1.50v1.50h-1.50zM274.22 303.97h1.50v1.50h-1.50zM280.22 303.97h1.50v1.50h-1.50zM286.22 303.97h1.50v1.50h-1.50zM292.22 303.97h1.50v1.50h-1.50zM298.22 303.97h1.50v1.50h-1.50zM304.22 303.97h1.50v1.50h-1.50zM263.72 305.47h1.50v1.50h-1.50zM269.72 305.47h1.50v1.50h-1.50zM275.72 305.47h1.50v1.50h-1.50zM281.72 305.47h1.50v1.50h-1.50zM287.72 305.47h1.50v1.50h-1.50zM293.72 305.47h1.50v1.50h-1.50zM299.72 305.47h1.50v1.50h-1.50zM305.72 305.47h1.48v1.50h-1.48zM265.22 306.97h1.50v1.50h-1.50zM271.22 306.97h1.50v1.50h-1.50zM277.22 306.97h1.50v1.50h-1.50zM283.22 306.97h1.50v1.50h-1.50zM289.22 306.97h1.50v1.50h-1.50zM295.22 306.97h1.50v1.50h-1.50zM301.22 306.97h1.50v1.50h-1.50zM266.72 308.47h1.50v1.50h-1.50zM272.72 308.47h1.50v1.50h-1.50zM278.72 308.47h1.50v1.50h-1.50zM284.72 308.47h1.50v1.50h-1.50zM290.72 308.47h1.50v1.50h-1.50zM296.72 308.47h1.50v1.50h-1.50zM302.72 308.47h1.50v1.50h-1.50zM268.22 309.97h1.50v1.50h-1.50zM274.22 309.97h1.50v1.50h-1.50zM280.22 309.97h1.50v1.50h-1.50zM286.22 309.97h1.50v1.50h-1.50zM292.22 309.97h1.50v1.50h-1.50zM298.22 309.97h1.50v1.50h-1.50zM304.22 309.97h1.50v1.50h-1.50zM263.72 311.47h1.50v1.50h-1.50zM269.72 311.47h1.50v1.50h-1.50zM275.72 311.47h1.50v1.50h-1.50zM281.72 311.47h1.50v1.50h-1.50zM287.72 311.47h1.50v1.50h-1.50zM293.72 311.47h1.50v1.50h-1.50zM299.72 311.47h1.50v1.50h-1.50zM305.72 311.47h1.48v1.50h-1.48zM265.22 312.97h1.50v1.50h-1.50zM271.22 312.97h1.50v1.50h-1.50zM277.22 312.97h1.50v1.50h-1.50zM283.22 312.97h1.50v1.50h-1.50zM289.22 312.97h1.50v1.50h-1.50zM295.22 312.97h1.50v1.50h-1.50zM301.22 312.97h1.50v1.50h-1.50zM266.72 314.47h1.50v1.50h-1.50zM272.72 314.47h1.50v1.50h-1.50zM278.72 314.47h1.50v1.50h-1.50zM284.72 314.47h1.50v1.50h-1.50zM290.72 314.47h1.50v1.50h-1.50zM296.72 314.47h1.50v1.50h-1.50zM302.72 314.47h1.50v1.50h-1.50zM268.22 315.97h1.50v1.50h-1.50zM274.22 315.97h1.50v1.50h-1.50zM280.22 315.97h1.50v1.50h-1.50zM286.22 315.97h1.50v1.50h-1.50zM292.22 315.97h1.50v1.50h-1.50zM298.22 315.97h1.50v1.50h-1.50zM304.22 315.97h1.50v1.50h-1.50zM263.72 317.47h1.50v1.50h-1.50zM269.72 317.47h1.50v1.50h-1.50zM275.72 317.47h1.50v1.50h-1.50zM281.72 317.47h1.50v1.50h-1.50zM287.72 317.47h1.50v1.50h-1.50zM293.72 317.47h1.50v1.50h-1.50zM299.72 317.47h1.50v1.50h-1.50zM305.72 317.47h1.48v1.50h-1.48zM265.22 318.97h1.50v1.50h-1.50zM271.22 318.97h1.50v1.50h-1.50zM277.22 318.97h1.50v1.50h-1.50zM283.22 318.97h1.50v1.50h-1.50zM289.22 318.97h1.50v1.50h-1.50zM295.22 318.97h1.50v1.50h-1.50zM301.22 318.97h1.50v1.50h-1.50zM266.72 320.47h1.50v1.50h-1.50zM272.72 320.47h1.50v1.50h-1.50zM278.72 320.47h1.50v1.50h-1.50zM284.72 320.47h1.50v1.50h-1.50zM290.72 320.47h1.50v1.50h-1.50zM296.72 320.47h1.50v1.50h-1.50zM302.72 320.47h1.50v1.50h-1.50zM268.22 321.97h1.50v1.50h-1.50zM274.22 321.97h1.50v1.50h-1.50zM280.22 321.97h1.50v1.50h-1.50zM286.22 321.97h1.50v1.50h-1.50zM292.22 321.97h1.50v1.50h-1.50zM298.22 321.97h1.50v1.50h-1.50zM304.22 321.97h1.50v1.50h-1.50zM263.72 323.47h1.50v1.50h-1.50zM269.72 323.47h1.50v1.50h-1.50zM275.72 323.47h1.50v1.50h-1.50zM281.72 323.47h1.50v1.50h-1.50zM287.72 323.47h1.50v1.50h-1.50zM293.72 323.47h1.50v1.50h-1.50zM299.72 323.47h1.50v1.50h-1.50zM305.72 323.47h1.48v1.50h-1.48zM265.22 324.97h1.50v1.50h-1.50zM271.22 324.97h1.50v1.50h-1.50zM277.22 324.97h1.50v1.50h-1.50zM283.22 324.97h1.50v1.50h-1.50zM289.22 324.97h1.50v1.50h-1.50zM295.22 324.97h1.50v1.50h-1.50zM301.22 324.97h1.50v1.50h-1.50zM266.72 326.47h1.50v1.50h-1.50zM272.72 326.47h1.50v1.50h-1.50zM278.72 326.47h1.50v1.50h-1.50zM284.72 326.47h1.50v1.50h-1.50zM290.72 326.47h1.50v1.50h-1.50zM296.72 326.47h1.50v1.50h-1.50zM302.72 326.47h1.50v1.50h-1.50zM268.22 327.97h1.50v1.50h-1.50zM274.22 327.97h1.50v1.50h-1.50zM280.22 327.97h1.50v1.50h-1.50zM286.22 327.97h1.50v1.50h-1.50zM292.22 327.97h1.50v1.50h-1.50zM298.22 327.97h1.50v1.50h-1.50zM304.22 327.97h1.50v1.50h-1.50zM263.72 329.47h1.50v1.50h-1.50zM269.72 329.47h1.50v1.50h-1.50zM275.72 329.47h1.50v1.50h-1.50zM281.72 329.47h1.50v1.50h-1.50zM287.72 329.47h1.50v1.50h-1.50zM293.72 329.47h1.50v1.50h-1.50zM299.72 329.47h1.50v1.50h-1.50zM305.72 329.47h1.48v1.50h-1.48zM265.22 330.97h1.50v1.50h-1.50zM271.22 330.97h1.50v1.50h-1.50zM277.22 330.97h1.50v1.50h-1.50zM283.22 330.97h1.50v1.50h-1.50zM289.22 330.97h1.50v1.50h-1.50zM295.22 330.97h1.50v1.50h-1.50zM301.22 330.97h1.50v1.50h-1.50zM266.72 332.47h1.50v1.50h-1.50zM272.72 332.47h1.50v1.50h-1.50zM278.72 332.47h1.50v1.50h-1.50zM284.72 332.47h1.50v1.50h-1.50zM290.72 332.47h1.50v1.50h-1.50zM296.72 332.47h1.50v1.50h-1.50zM302.72 332.47h1.50v1.50h-1.50zM268.22 333.97h1.50v1.50h-1.50zM274.22 333.97h1.50v1.50h-1.50zM280.22 333.97h1.50v1.50h-1.50zM286.22 333.97h1.50v1.50h-1.50zM292.22 333.97h1.50v1.50h-1.50zM298.22 333.97h1.50v1.50h-1.50zM304.22 333.97h1.50v1.50h-1.50zM263.72 335.47h1.50v1.50h-1.50zM269.72 335.47h1.50v1.50h-1.50zM275.72 335.47h1.50v1.50h-1.50zM281.72 335.47h1.50v1.50h-1.50zM287.72 335.47h1.50v1.50h-1.50zM293.72 335.47h1.50v1.50h-1.50zM299.72 335.47h1.50v1.50h-1.50zM305.72 335.47h1.48v1.50h-1.48zM265.22 336.97h1.50v1.50h-1.50zM271.22 336.97h1.50v1.50h-1.50zM277.22 336.97h1.50v1.50h-1.50zM283.22 336.97h1.50v1.50h-1.50zM289.22 336.97h1.50v1.50h-1.50zM295.22 336.97h1.50v1.50h-1.50zM301.22 336.97h1.50v1.50h-1.50zM266.72 338.47h1.50v1.50h-1.50zM272.72 338.47h1.50v1.50h-1.50zM278.72 338.47h1.50v1.50h-1.50zM284.72 338.47h1.50v1.50h-1.50zM290.72 338.47h1.50v1.50h-1.50zM296.72 338.47h1.50v1.50h-1.50zM302.72 338.47h1.50v1.50h-1.50zM268.22 339.97h1.50v1.50h-1.50zM274.22 339.97h1.50v1.50h-1.50zM280.22 339.97h1.50v1.50h-1.50zM286.22 339.97h1.50v1.50h-1.50zM292.22 339.97h1.50v1.50h-1.50zM298.22 339.97h1.50v1.50h-1.50zM304.22 339.97h1.50v1.50h-1.50zM263.72 341.47h1.50v1.50h-1.50zM269.72 341.47h1.50v1.50h-1.50zM275.72 341.47h1.50v1.50h-1.50zM281.72 341.47h1.50v1.50h-1.50zM287.72 341.47h1.50v1.50h-1.50zM293.72 341.47h1.50v1.50h-1.50zM299.72 341.47h1.50v1.50h-1.50zM305.72 341.47h1.48v1.50h-1.48zM265.22 342.97h1.50v1.50h-1.50zM271.22 342.97h1.50v1.50h-1.50zM277.22 342.97h1.50v1.50h-1.50zM283.22 342.97h1.50v1.50h-1.50zM289.22 342.97h1.50v1.50h-1.50zM295.22 342.97h1.50v1.50h-1.50zM301.22 342.97h1.50v1.50h-1.50zM266.72 344.47h1.50v1.50h-1.50zM272.72 344.47h1.50v1.50h-1.50zM278.72 344.47h1.50v1.50h-1.50zM284.72 344.47h1.50v1.50h-1.50zM290.72 344.47h1.50v1.50h-1.50zM296.72 344.47h1.50v1.50h-1.50zM302.72 344.47h1.50v1.50h-1.50zM268.22 345.97h1.50v1.50h-1.50zM274.22 345.97h1.50v1.50h-1.50zM280.22 345.97h1.50v1.50h-1.50zM286.22 345.97h1.50v1.50h-1.50zM292.22 345.97h1.50v1.50h-1.50zM298.22 345.97h1.50v1.50h-1.50zM304.22 345.97h1.50v1.50h-1.50zM263.72 347.47h1.50v1.50h-1.50zM269.72 347.47h1.50v1.50h-1.50zM275.72 347.47h1.50v1.50h-1.50zM281.72 347.47h1.50v1.50h-1.50zM287.72 347.47h1.50v1.50h-1.50zM293.72 347.47h1.50v1.50h-1.50zM299.72 347.47h1.50v1.50h-1.50zM305.72 347.47h1.48v1.50h-1.48zM265.22 348.97h1.50v1.50h-1.50zM271.22 348.97h1.50v1.50h-1.50zM277.22 348.97h1.50v1.50h-1.50zM283.22 348.97h1.50v1.50h-1.50zM289.22 348.97h1.50v1.50h-1.50zM295.22 348.97h1.50v1.50h-1.50zM301.22 348.97h1.50v1.50h-1.50zM266.72 350.47h1.50v1.50h-1.50zM272.72 350.47h1.50v1.50h-1.50zM278.72 350.47h1.50v1.50h-1.50zM284.72 350.47h1.50v1.50h-1.50zM290.72 350.47h1.50v1.50h-1.50zM296.72 350.47h1.50v1.50h-1.50zM302.72 350.47h1.50v1.50h-1.50zM268.22 351.97h1.50v0.83h-1.50zM274.22 351.97h1.50v0.83h-1.50zM280.22 351.97h1.50v0.83h-1.50zM286.22 351.97h1.50v0.83h-1.50zM292.22 351.97h1.50v0.83h-1.50zM298.22 351.97h1.50v0.83h-1.50zM304.22 351.97h1.50v0.83h-1.50z"/>
<text x="284.45" y="198.80" text-anchor="middle" font-size="19.5" fill="#404040" stroke="#404040" stroke-width="0.15">0.65</text>
<rect x="317.00" y="264.20" width="43.00" height="87.80" fill="#A9D18E" stroke="#000" stroke-width="1.5"/>
<text x="338.65" y="254.40" text-anchor="middle" font-size="19.5" fill="#404040" stroke="#404040" stroke-width="0.15">0.40</text>
<rect x="370.1" y="194.9" width="43.40" height="157.90" fill="#1F4E79"/>
<text x="391.65" y="182.00" text-anchor="middle" font-size="19.5" fill="#404040" stroke="#404040" stroke-width="0.15">0.73</text>
<path fill="#2F5597" d="M423.90 231.83h1.48v1.50h-1.48zM429.88 231.83h1.50v1.50h-1.50zM435.88 231.83h1.50v1.50h-1.50zM441.88 231.83h1.50v1.50h-1.50zM447.88 231.83h1.50v1.50h-1.50zM453.88 231.83h1.50v1.50h-1.50zM459.88 231.83h1.50v1.50h-1.50zM465.88 231.83h1.50v1.50h-1.50zM425.38 233.33h1.50v1.50h-1.50zM431.38 233.33h1.50v1.50h-1.50zM437.38 233.33h1.50v1.50h-1.50zM443.38 233.33h1.50v1.50h-1.50zM449.38 233.33h1.50v1.50h-1.50zM455.38 233.33h1.50v1.50h-1.50zM461.38 233.33h1.50v1.50h-1.50zM426.88 234.83h1.50v1.50h-1.50zM432.88 234.83h1.50v1.50h-1.50zM438.88 234.83h1.50v1.50h-1.50zM444.88 234.83h1.50v1.50h-1.50zM450.88 234.83h1.50v1.50h-1.50zM456.88 234.83h1.50v1.50h-1.50zM462.88 234.83h1.50v1.50h-1.50zM428.38 236.33h1.50v1.50h-1.50zM434.38 236.33h1.50v1.50h-1.50zM440.38 236.33h1.50v1.50h-1.50zM446.38 236.33h1.50v1.50h-1.50zM452.38 236.33h1.50v1.50h-1.50zM458.38 236.33h1.50v1.50h-1.50zM464.38 236.33h1.50v1.50h-1.50zM423.90 237.83h1.48v1.50h-1.48zM429.88 237.83h1.50v1.50h-1.50zM435.88 237.83h1.50v1.50h-1.50zM441.88 237.83h1.50v1.50h-1.50zM447.88 237.83h1.50v1.50h-1.50zM453.88 237.83h1.50v1.50h-1.50zM459.88 237.83h1.50v1.50h-1.50zM465.88 237.83h1.50v1.50h-1.50zM425.38 239.33h1.50v1.50h-1.50zM431.38 239.33h1.50v1.50h-1.50zM437.38 239.33h1.50v1.50h-1.50zM443.38 239.33h1.50v1.50h-1.50zM449.38 239.33h1.50v1.50h-1.50zM455.38 239.33h1.50v1.50h-1.50zM461.38 239.33h1.50v1.50h-1.50zM426.88 240.83h1.50v1.50h-1.50zM432.88 240.83h1.50v1.50h-1.50zM438.88 240.83h1.50v1.50h-1.50zM444.88 240.83h1.50v1.50h-1.50zM450.88 240.83h1.50v1.50h-1.50zM456.88 240.83h1.50v1.50h-1.50zM462.88 240.83h1.50v1.50h-1.50zM428.38 242.33h1.50v1.50h-1.50zM434.38 242.33h1.50v1.50h-1.50zM440.38 242.33h1.50v1.50h-1.50zM446.38 242.33h1.50v1.50h-1.50zM452.38 242.33h1.50v1.50h-1.50zM458.38 242.33h1.50v1.50h-1.50zM464.38 242.33h1.50v1.50h-1.50zM423.90 243.83h1.48v1.50h-1.48zM429.88 243.83h1.50v1.50h-1.50zM435.88 243.83h1.50v1.50h-1.50zM441.88 243.83h1.50v1.50h-1.50zM447.88 243.83h1.50v1.50h-1.50zM453.88 243.83h1.50v1.50h-1.50zM459.88 243.83h1.50v1.50h-1.50zM465.88 243.83h1.50v1.50h-1.50zM425.38 245.33h1.50v1.50h-1.50zM431.38 245.33h1.50v1.50h-1.50zM437.38 245.33h1.50v1.50h-1.50zM443.38 245.33h1.50v1.50h-1.50zM449.38 245.33h1.50v1.50h-1.50zM455.38 245.33h1.50v1.50h-1.50zM461.38 245.33h1.50v1.50h-1.50zM426.88 246.83h1.50v1.50h-1.50zM432.88 246.83h1.50v1.50h-1.50zM438.88 246.83h1.50v1.50h-1.50zM444.88 246.83h1.50v1.50h-1.50zM450.88 246.83h1.50v1.50h-1.50zM456.88 246.83h1.50v1.50h-1.50zM462.88 246.83h1.50v1.50h-1.50zM428.38 248.33h1.50v1.50h-1.50zM434.38 248.33h1.50v1.50h-1.50zM440.38 248.33h1.50v1.50h-1.50zM446.38 248.33h1.50v1.50h-1.50zM452.38 248.33h1.50v1.50h-1.50zM458.38 248.33h1.50v1.50h-1.50zM464.38 248.33h1.50v1.50h-1.50zM423.90 249.83h1.48v1.50h-1.48zM429.88 249.83h1.50v1.50h-1.50zM435.88 249.83h1.50v1.50h-1.50zM441.88 249.83h1.50v1.50h-1.50zM447.88 249.83h1.50v1.50h-1.50zM453.88 249.83h1.50v1.50h-1.50zM459.88 249.83h1.50v1.50h-1.50zM465.88 249.83h1.50v1.50h-1.50zM425.38 251.33h1.50v1.50h-1.50zM431.38 251.33h1.50v1.50h-1.50zM437.38 251.33h1.50v1.50h-1.50zM443.38 251.33h1.50v1.50h-1.50zM449.38 251.33h1.50v1.50h-1.50zM455.38 251.33h1.50v1.50h-1.50zM461.38 251.33h1.50v1.50h-1.50zM426.88 252.83h1.50v1.50h-1.50zM432.88 252.83h1.50v1.50h-1.50zM438.88 252.83h1.50v1.50h-1.50zM444.88 252.83h1.50v1.50h-1.50zM450.88 252.83h1.50v1.50h-1.50zM456.88 252.83h1.50v1.50h-1.50zM462.88 252.83h1.50v1.50h-1.50zM428.38 254.33h1.50v1.50h-1.50zM434.38 254.33h1.50v1.50h-1.50zM440.38 254.33h1.50v1.50h-1.50zM446.38 254.33h1.50v1.50h-1.50zM452.38 254.33h1.50v1.50h-1.50zM458.38 254.33h1.50v1.50h-1.50zM464.38 254.33h1.50v1.50h-1.50zM423.90 255.83h1.48v1.50h-1.48zM429.88 255.83h1.50v1.50h-1.50zM435.88 255.83h1.50v1.50h-1.50zM441.88 255.83h1.50v1.50h-1.50zM447.88 255.83h1.50v1.50h-1.50zM453.88 255.83h1.50v1.50h-1.50zM459.88 255.83h1.50v1.50h-1.50zM465.88 255.83h1.50v1.50h-1.50zM425.38 257.33h1.50v1.50h-1.50zM431.38 257.33h1.50v1.50h-1.50zM437.38 257.33h1.50v1.50h-1.50zM443.38 257.33h1.50v1.50h-1.50zM449.38 257.33h1.50v1.50h-1.50zM455.38 257.33h1.50v1.50h-1.50zM461.38 257.33h1.50v1.50h-1.50zM426.88 258.83h1.50v1.50h-1.50zM432.88 258.83h1.50v1.50h-1.50zM438.88 258.83h1.50v1.50h-1.50zM444.88 258.83h1.50v1.50h-1.50zM450.88 258.83h1.50v1.50h-1.50zM456.88 258.83h1.50v1.50h-1.50zM462.88 258.83h1.50v1.50h-1.50zM428.38 260.33h1.50v1.50h-1.50zM434.38 260.33h1.50v1.50h-1.50zM440.38 260.33h1.50v1.50h-1.50zM446.38 260.33h1.50v1.50h-1.50zM452.38 260.33h1.50v1.50h-1.50zM458.38 260.33h1.50v1.50h-1.50zM464.38 260.33h1.50v1.50h-1.50zM423.90 261.83h1.48v1.50h-1.48zM429.88 261.83h1.50v1.50h-1.50zM435.88 261.83h1.50v1.50h-1.50zM441.88 261.83h1.50v1.50h-1.50zM447.88 261.83h1.50v1.50h-1.50zM453.88 261.83h1.50v1.50h-1.50zM459.88 261.83h1.50v1.50h-1.50zM465.88 261.83h1.50v1.50h-1.50zM425.38 263.33h1.50v1.50h-1.50zM431.38 263.33h1.50v1.50h-1.50zM437.38 263.33h1.50v1.50h-1.50zM443.38 263.33h1.50v1.50h-1.50zM449.38 263.33h1.50v1.50h-1.50zM455.38 263.33h1.50v1.50h-1.50zM461.38 263.33h1.50v1.50h-1.50zM426.88 264.83h1.50v1.50h-1.50zM432.88 264.83h1.50v1.50h-1.50zM438.88 264.83h1.50v1.50h-1.50zM444.88 264.83h1.50v1.50h-1.50zM450.88 264.83h1.50v1.50h-1.50zM456.88 264.83h1.50v1.50h-1.50zM462.88 264.83h1.50v1.50h-1.50zM428.38 266.33h1.50v1.50h-1.50zM434.38 266.33h1.50v1.50h-1.50zM440.38 266.33h1.50v1.50h-1.50zM446.38 266.33h1.50v1.50h-1.50zM452.38 266.33h1.50v1.50h-1.50zM458.38 266.33h1.50v1.50h-1.50zM464.38 266.33h1.50v1.50h-1.50zM423.90 267.83h1.48v1.50h-1.48zM429.88 267.83h1.50v1.50h-1.50zM435.88 267.83h1.50v1.50h-1.50zM441.88 267.83h1.50v1.50h-1.50zM447.88 267.83h1.50v1.50h-1.50zM453.88 267.83h1.50v1.50h-1.50zM459.88 267.83h1.50v1.50h-1.50zM465.88 267.83h1.50v1.50h-1.50zM425.38 269.33h1.50v1.50h-1.50zM431.38 269.33h1.50v1.50h-1.50zM437.38 269.33h1.50v1.50h-1.50zM443.38 269.33h1.50v1.50h-1.50zM449.38 269.33h1.50v1.50h-1.50zM455.38 269.33h1.50v1.50h-1.50zM461.38 269.33h1.50v1.50h-1.50zM426.88 270.83h1.50v1.50h-1.50zM432.88 270.83h1.50v1.50h-1.50zM438.88 270.83h1.50v1.50h-1.50zM444.88 270.83h1.50v1.50h-1.50zM450.88 270.83h1.50v1.50h-1.50zM456.88 270.83h1.50v1.50h-1.50zM462.88 270.83h1.50v1.50h-1.50zM428.38 272.33h1.50v1.50h-1.50zM434.38 272.33h1.50v1.50h-1.50zM440.38 272.33h1.50v1.50h-1.50zM446.38 272.33h1.50v1.50h-1.50zM452.38 272.33h1.50v1.50h-1.50zM458.38 272.33h1.50v1.50h-1.50zM464.38 272.33h1.50v1.50h-1.50zM423.90 273.83h1.48v1.50h-1.48zM429.88 273.83h1.50v1.50h-1.50zM435.88 273.83h1.50v1.50h-1.50zM441.88 273.83h1.50v1.50h-1.50zM447.88 273.83h1.50v1.50h-1.50zM453.88 273.83h1.50v1.50h-1.50zM459.88 273.83h1.50v1.50h-1.50zM465.88 273.83h1.50v1.50h-1.50zM425.38 275.33h1.50v1.50h-1.50zM431.38 275.33h1.50v1.50h-1.50zM437.38 275.33h1.50v1.50h-1.50zM443.38 275.33h1.50v1.50h-1.50zM449.38 275.33h1.50v1.50h-1.50zM455.38 275.33h1.50v1.50h-1.50zM461.38 275.33h1.50v1.50h-1.50zM426.88 276.83h1.50v1.50h-1.50zM432.88 276.83h1.50v1.50h-1.50zM438.88 276.83h1.50v1.50h-1.50zM444.88 276.83h1.50v1.50h-1.50zM450.88 276.83h1.50v1.50h-1.50zM456.88 276.83h1.50v1.50h-1.50zM462.88 276.83h1.50v1.50h-1.50zM428.38 278.33h1.50v1.50h-1.50zM434.38 278.33h1.50v1.50h-1.50zM440.38 278.33h1.50v1.50h-1.50zM446.38 278.33h1.50v1.50h-1.50zM452.38 278.33h1.50v1.50h-1.50zM458.38 278.33h1.50v1.50h-1.50zM464.38 278.33h1.50v1.50h-1.50zM423.90 279.83h1.48v1.50h-1.48zM429.88 279.83h1.50v1.50h-1.50zM435.88 279.83h1.50v1.50h-1.50zM441.88 279.83h1.50v1.50h-1.50zM447.88 279.83h1.50v1.50h-1.50zM453.88 279.83h1.50v1.50h-1.50zM459.88 279.83h1.50v1.50h-1.50zM465.88 279.83h1.50v1.50h-1.50zM425.38 281.33h1.50v1.50h-1.50zM431.38 281.33h1.50v1.50h-1.50zM437.38 281.33h1.50v1.50h-1.50zM443.38 281.33h1.50v1.50h-1.50zM449.38 281.33h1.50v1.50h-1.50zM455.38 281.33h1.50v1.50h-1.50zM461.38 281.33h1.50v1.50h-1.50zM426.88 282.83h1.50v1.50h-1.50zM432.88 282.83h1.50v1.50h-1.50zM438.88 282.83h1.50v1.50h-1.50zM444.88 282.83h1.50v1.50h-1.50zM450.88 282.83h1.50v1.50h-1.50zM456.88 282.83h1.50v1.50h-1.50zM462.88 282.83h1.50v1.50h-1.50zM428.38 284.33h1.50v1.50h-1.50zM434.38 284.33h1.50v1.50h-1.50zM440.38 284.33h1.50v1.50h-1.50zM446.38 284.33h1.50v1.50h-1.50zM452.38 284.33h1.50v1.50h-1.50zM458.38 284.33h1.50v1.50h-1.50zM464.38 284.33h1.50v1.50h-1.50zM423.90 285.83h1.48v1.50h-1.48zM429.88 285.83h1.50v1.50h-1.50zM435.88 285.83h1.50v1.50h-1.50zM441.88 285.83h1.50v1.50h-1.50zM447.88 285.83h1.50v1.50h-1.50zM453.88 285.83h1.50v1.50h-1.50zM459.88 285.83h1.50v1.50h-1.50zM465.88 285.83h1.50v1.50h-1.50zM425.38 287.33h1.50v1.50h-1.50zM431.38 287.33h1.50v1.50h-1.50zM437.38 287.33h1.50v1.50h-1.50zM443.38 287.33h1.50v1.50h-1.50zM449.38 287.33h1.50v1.50h-1.50zM455.38 287.33h1.50v1.50h-1.50zM461.38 287.33h1.50v1.50h-1.50zM426.88 288.83h1.50v1.50h-1.50zM432.88 288.83h1.50v1.50h-1.50zM438.88 288.83h1.50v1.50h-1.50zM444.88 288.83h1.50v1.50h-1.50zM450.88 288.83h1.50v1.50h-1.50zM456.88 288.83h1.50v1.50h-1.50zM462.88 288.83h1.50v1.50h-1.50zM428.38 290.33h1.50v1.50h-1.50zM434.38 290.33h1.50v1.50h-1.50zM440.38 290.33h1.50v1.50h-1.50zM446.38 290.33h1.50v1.50h-1.50zM452.38 290.33h1.50v1.50h-1.50zM458.38 290.33h1.50v1.50h-1.50zM464.38 290.33h1.50v1.50h-1.50zM423.90 291.83h1.48v1.50h-1.48zM429.88 291.83h1.50v1.50h-1.50zM435.88 291.83h1.50v1.50h-1.50zM441.88 291.83h1.50v1.50h-1.50zM447.88 291.83h1.50v1.50h-1.50zM453.88 291.83h1.50v1.50h-1.50zM459.88 291.83h1.50v1.50h-1.50zM465.88 291.83h1.50v1.50h-1.50zM425.38 293.33h1.50v1.50h-1.50zM431.38 293.33h1.50v1.50h-1.50zM437.38 293.33h1.50v1.50h-1.50zM443.38 293.33h1.50v1.50h-1.50zM449.38 293.33h1.50v1.50h-1.50zM455.38 293.33h1.50v1.50h-1.50zM461.38 293.33h1.50v1.50h-1.50zM426.88 294.83h1.50v1.50h-1.50zM432.88 294.83h1.50v1.50h-1.50zM438.88 294.83h1.50v1.50h-1.50zM444.88 294.83h1.50v1.50h-1.50zM450.88 294.83h1.50v1.50h-1.50zM456.88 294.83h1.50v1.50h-1.50zM462.88 294.83h1.50v1.50h-1.50zM428.38 296.33h1.50v1.50h-1.50zM434.38 296.33h1.50v1.50h-1.50zM440.38 296.33h1.50v1.50h-1.50zM446.38 296.33h1.50v1.50h-1.50zM452.38 296.33h1.50v1.50h-1.50zM458.38 296.33h1.50v1.50h-1.50zM464.38 296.33h1.50v1.50h-1.50zM423.90 297.83h1.48v1.50h-1.48zM429.88 297.83h1.50v1.50h-1.50zM435.88 297.83h1.50v1.50h-1.50zM441.88 297.83h1.50v1.50h-1.50zM447.88 297.83h1.50v1.50h-1.50zM453.88 297.83h1.50v1.50h-1.50zM459.88 297.83h1.50v1.50h-1.50zM465.88 297.83h1.50v1.50h-1.50zM425.38 299.33h1.50v1.50h-1.50zM431.38 299.33h1.50v1.50h-1.50zM437.38 299.33h1.50v1.50h-1.50zM443.38 299.33h1.50v1.50h-1.50zM449.38 299.33h1.50v1.50h-1.50zM455.38 299.33h1.50v1.50h-1.50zM461.38 299.33h1.50v1.50h-1.50zM426.88 300.83h1.50v1.50h-1.50zM432.88 300.83h1.50v1.50h-1.50zM438.88 300.83h1.50v1.50h-1.50zM444.88 300.83h1.50v1.50h-1.50zM450.88 300.83h1.50v1.50h-1.50zM456.88 300.83h1.50v1.50h-1.50zM462.88 300.83h1.50v1.50h-1.50zM428.38 302.33h1.50v1.50h-1.50zM434.38 302.33h1.50v1.50h-1.50zM440.38 302.33h1.50v1.50h-1.50zM446.38 302.33h1.50v1.50h-1.50zM452.38 302.33h1.50v1.50h-1.50zM458.38 302.33h1.50v1.50h-1.50zM464.38 302.33h1.50v1.50h-1.50zM423.90 303.83h1.48v1.50h-1.48zM429.88 303.83h1.50v1.50h-1.50zM435.88 303.83h1.50v1.50h-1.50zM441.88 303.83h1.50v1.50h-1.50zM447.88 303.83h1.50v1.50h-1.50zM453.88 303.83h1.50v1.50h-1.50zM459.88 303.83h1.50v1.50h-1.50zM465.88 303.83h1.50v1.50h-1.50zM425.38 305.33h1.50v1.50h-1.50zM431.38 305.33h1.50v1.50h-1.50zM437.38 305.33h1.50v1.50h-1.50zM443.38 305.33h1.50v1.50h-1.50zM449.38 305.33h1.50v1.50h-1.50zM455.38 305.33h1.50v1.50h-1.50zM461.38 305.33h1.50v1.50h-1.50zM426.88 306.83h1.50v1.50h-1.50zM432.88 306.83h1.50v1.50h-1.50zM438.88 306.83h1.50v1.50h-1.50zM444.88 306.83h1.50v1.50h-1.50zM450.88 306.83h1.50v1.50h-1.50zM456.88 306.83h1.50v1.50h-1.50zM462.88 306.83h1.50v1.50h-1.50zM428.38 308.33h1.50v1.50h-1.50zM434.38 308.33h1.50v1.50h-1.50zM440.38 308.33h1.50v1.50h-1.50zM446.38 308.33h1.50v1.50h-1.50zM452.38 308.33h1.50v1.50h-1.50zM458.38 308.33h1.50v1.50h-1.50zM464.38 308.33h1.50v1.50h-1.50zM423.90 309.83h1.48v1.50h-1.48zM429.88 309.83h1.50v1.50h-1.50zM435.88 309.83h1.50v1.50h-1.50zM441.88 309.83h1.50v1.50h-1.50zM447.88 309.83h1.50v1.50h-1.50zM453.88 309.83h1.50v1.50h-1.50zM459.88 309.83h1.50v1.50h-1.50zM465.88 309.83h1.50v1.50h-1.50zM425.38 311.33h1.50v1.50h-1.50zM431.38 311.33h1.50v1.50h-1.50zM437.38 311.33h1.50v1.50h-1.50zM443.38 311.33h1.50v1.50h-1.50zM449.38 311.33h1.50v1.50h-1.50zM455.38 311.33h1.50v1.50h-1.50zM461.38 311.33h1.50v1.50h-1.50zM426.88 312.83h1.50v1.50h-1.50zM432.88 312.83h1.50v1.50h-1.50zM438.88 312.83h1.50v1.50h-1.50zM444.88 312.83h1.50v1.50h-1.50zM450.88 312.83h1.50v1.50h-1.50zM456.88 312.83h1.50v1.50h-1.50zM462.88 312.83h1.50v1.50h-1.50zM428.38 314.33h1.50v1.50h-1.50zM434.38 314.33h1.50v1.50h-1.50zM440.38 314.33h1.50v1.50h-1.50zM446.38 314.33h1.50v1.50h-1.50zM452.38 314.33h1.50v1.50h-1.50zM458.38 314.33h1.50v1.50h-1.50zM464.38 314.33h1.50v1.50h-1.50zM423.90 315.83h1.48v1.50h-1.48zM429.88 315.83h1.50v1.50h-1.50zM435.88 315.83h1.50v1.50h-1.50zM441.88 315.83h1.50v1.50h-1.50zM447.88 315.83h1.50v1.50h-1.50zM453.88 315.83h1.50v1.50h-1.50zM459.88 315.83h1.50v1.50h-1.50zM465.88 315.83h1.50v1.50h-1.50zM425.38 317.33h1.50v1.50h-1.50zM431.38 317.33h1.50v1.50h-1.50zM437.38 317.33h1.50v1.50h-1.50zM443.38 317.33h1.50v1.50h-1.50zM449.38 317.33h1.50v1.50h-1.50zM455.38 317.33h1.50v1.50h-1.50zM461.38 317.33h1.50v1.50h-1.50zM426.88 318.83h1.50v1.50h-1.50zM432.88 318.83h1.50v1.50h-1.50zM438.88 318.83h1.50v1.50h-1.50zM444.88 318.83h1.50v1.50h-1.50zM450.88 318.83h1.50v1.50h-1.50zM456.88 318.83h1.50v1.50h-1.50zM462.88 318.83h1.50v1.50h-1.50zM428.38 320.33h1.50v1.50h-1.50zM434.38 320.33h1.50v1.50h-1.50zM440.38 320.33h1.50v1.50h-1.50zM446.38 320.33h1.50v1.50h-1.50zM452.38 320.33h1.50v1.50h-1.50zM458.38 320.33h1.50v1.50h-1.50zM464.38 320.33h1.50v1.50h-1.50zM423.90 321.83h1.48v1.50h-1.48zM429.88 321.83h1.50v1.50h-1.50zM435.88 321.83h1.50v1.50h-1.50zM441.88 321.83h1.50v1.50h-1.50zM447.88 321.83h1.50v1.50h-1.50zM453.88 321.83h1.50v1.50h-1.50zM459.88 321.83h1.50v1.50h-1.50zM465.88 321.83h1.50v1.50h-1.50zM425.38 323.33h1.50v1.50h-1.50zM431.38 323.33h1.50v1.50h-1.50zM437.38 323.33h1.50v1.50h-1.50zM443.38 323.33h1.50v1.50h-1.50zM449.38 323.33h1.50v1.50h-1.50zM455.38 323.33h1.50v1.50h-1.50zM461.38 323.33h1.50v1.50h-1.50zM426.88 324.83h1.50v1.50h-1.50zM432.88 324.83h1.50v1.50h-1.50zM438.88 324.83h1.50v1.50h-1.50zM444.88 324.83h1.50v1.50h-1.50zM450.88 324.83h1.50v1.50h-1.50zM456.88 324.83h1.50v1.50h-1.50zM462.88 324.83h1.50v1.50h-1.50zM428.38 326.33h1.50v1.50h-1.50zM434.38 326.33h1.50v1.50h-1.50zM440.38 326.33h1.50v1.50h-1.50zM446.38 326.33h1.50v1.50h-1.50zM452.38 326.33h1.50v1.50h-1.50zM458.38 326.33h1.50v1.50h-1.50zM464.38 326.33h1.50v1.50h-1.50zM423.90 327.83h1.48v1.50h-1.48zM429.88 327.83h1.50v1.50h-1.50zM435.88 327.83h1.50v1.50h-1.50zM441.88 327.83h1.50v1.50h-1.50zM447.88 327.83h1.50v1.50h-1.50zM453.88 327.83h1.50v1.50h-1.50zM459.88 327.83h1.50v1.50h-1.50zM465.88 327.83h1.50v1.50h-1.50zM425.38 329.33h1.50v1.50h-1.50zM431.38 329.33h1.50v1.50h-1.50zM437.38 329.33h1.50v1.50h-1.50zM443.38 329.33h1.50v1.50h-1.50zM449.38 329.33h1.50v1.50h-1.50zM455.38 329.33h1.50v1.50h-1.50zM461.38 329.33h1.50v1.50h-1.50zM426.88 330.83h1.50v1.50h-1.50zM432.88 330.83h1.50v1.50h-1.50zM438.88 330.83h1.50v1.50h-1.50zM444.88 330.83h1.50v1.50h-1.50zM450.88 330.83h1.50v1.50h-1.50zM456.88 330.83h1.50v1.50h-1.50zM462.88 330.83h1.50v1.50h-1.50zM428.38 332.33h1.50v1.50h-1.50zM434.38 332.33h1.50v1.50h-1.50zM440.38 332.33h1.50v1.50h-1.50zM446.38 332.33h1.50v1.50h-1.50zM452.38 332.33h1.50v1.50h-1.50zM458.38 332.33h1.50v1.50h-1.50zM464.38 332.33h1.50v1.50h-1.50zM423.90 333.83h1.48v1.50h-1.48zM429.88 333.83h1.50v1.50h-1.50zM435.88 333.83h1.50v1.50h-1.50zM441.88 333.83h1.50v1.50h-1.50zM447.88 333.83h1.50v1.50h-1.50zM453.88 333.83h1.50v1.50h-1.50zM459.88 333.83h1.50v1.50h-1.50zM465.88 333.83h1.50v1.50h-1.50zM425.38 335.33h1.50v1.50h-1.50zM431.38 335.33h1.50v1.50h-1.50zM437.38 335.33h1.50v1.50h-1.50zM443.38 335.33h1.50v1.50h-1.50zM449.38 335.33h1.50v1.50h-1.50zM455.38 335.33h1.50v1.50h-1.50zM461.38 335.33h1.50v1.50h-1.50zM426.88 336.83h1.50v1.50h-1.50zM432.88 336.83h1.50v1.50h-1.50zM438.88 336.83h1.50v1.50h-1.50zM444.88 336.83h1.50v1.50h-1.50zM450.88 336.83h1.50v1.50h-1.50zM456.88 336.83h1.50v1.50h-1.50zM462.88 336.83h1.50v1.50h-1.50zM428.38 338.33h1.50v1.50h-1.50zM434.38 338.33h1.50v1.50h-1.50zM440.38 338.33h1.50v1.50h-1.50zM446.38 338.33h1.50v1.50h-1.50zM452.38 338.33h1.50v1.50h-1.50zM458.38 338.33h1.50v1.50h-1.50zM464.38 338.33h1.50v1.50h-1.50zM423.90 339.83h1.48v1.50h-1.48zM429.88 339.83h1.50v1.50h-1.50zM435.88 339.83h1.50v1.50h-1.50zM441.88 339.83h1.50v1.50h-1.50zM447.88 339.83h1.50v1.50h-1.50zM453.88 339.83h1.50v1.50h-1.50zM459.88 339.83h1.50v1.50h-1.50zM465.88 339.83h1.50v1.50h-1.50zM425.38 341.33h1.50v1.50h-1.50zM431.38 341.33h1.50v1.50h-1.50zM437.38 341.33h1.50v1.50h-1.50zM443.38 341.33h1.50v1.50h-1.50zM449.38 341.33h1.50v1.50h-1.50zM455.38 341.33h1.50v1.50h-1.50zM461.38 341.33h1.50v1.50h-1.50zM426.88 342.83h1.50v1.50h-1.50zM432.88 342.83h1.50v1.50h-1.50zM438.88 342.83h1.50v1.50h-1.50zM444.88 342.83h1.50v1.50h-1.50zM450.88 342.83h1.50v1.50h-1.50zM456.88 342.83h1.50v1.50h-1.50zM462.88 342.83h1.50v1.50h-1.50zM428.38 344.33h1.50v1.50h-1.50zM434.38 344.33h1.50v1.50h-1.50zM440.38 344.33h1.50v1.50h-1.50zM446.38 344.33h1.50v1.50h-1.50zM452.38 344.33h1.50v1.50h-1.50zM458.38 344.33h1.50v1.50h-1.50zM464.38 344.33h1.50v1.50h-1.50zM423.90 345.83h1.48v1.50h-1.48zM429.88 345.83h1.50v1.50h-1.50zM435.88 345.83h1.50v1.50h-1.50zM441.88 345.83h1.50v1.50h-1.50zM447.88 345.83h1.50v1.50h-1.50zM453.88 345.83h1.50v1.50h-1.50zM459.88 345.83h1.50v1.50h-1.50zM465.88 345.83h1.50v1.50h-1.50zM425.38 347.33h1.50v1.50h-1.50zM431.38 347.33h1.50v1.50h-1.50zM437.38 347.33h1.50v1.50h-1.50zM443.38 347.33h1.50v1.50h-1.50zM449.38 347.33h1.50v1.50h-1.50zM455.38 347.33h1.50v1.50h-1.50zM461.38 347.33h1.50v1.50h-1.50zM426.88 348.83h1.50v1.50h-1.50zM432.88 348.83h1.50v1.50h-1.50zM438.88 348.83h1.50v1.50h-1.50zM444.88 348.83h1.50v1.50h-1.50zM450.88 348.83h1.50v1.50h-1.50zM456.88 348.83h1.50v1.50h-1.50zM462.88 348.83h1.50v1.50h-1.50zM428.38 350.33h1.50v1.50h-1.50zM434.38 350.33h1.50v1.50h-1.50zM440.38 350.33h1.50v1.50h-1.50zM446.38 350.33h1.50v1.50h-1.50zM452.38 350.33h1.50v1.50h-1.50zM458.38 350.33h1.50v1.50h-1.50zM464.38 350.33h1.50v1.50h-1.50zM423.90 351.83h1.48v0.97h-1.48zM429.88 351.83h1.50v0.97h-1.50zM435.88 351.83h1.50v0.97h-1.50zM441.88 351.83h1.50v0.97h-1.50zM447.88 351.83h1.50v0.97h-1.50zM453.88 351.83h1.50v0.97h-1.50zM459.88 351.83h1.50v0.97h-1.50zM465.88 351.83h1.50v0.97h-1.50z"/>
<text x="445.35" y="219.70" text-anchor="middle" font-size="19.5" fill="#404040" stroke="#404040" stroke-width="0.15">0.56</text>
<rect x="477.40" y="257.00" width="43.10" height="95.00" fill="#BDD7EE" stroke="#000" stroke-width="1.5"/>
<text x="499.1" y="245.40" text-anchor="middle" font-size="19.5" fill="#404040" stroke="#404040" stroke-width="0.15">0.44</text>
<rect x="531.9" y="134.9" width="42.10" height="217.90" fill="#000000"/>
<text x="553.75" y="122.00" text-anchor="middle" font-size="19.5" fill="#404040" stroke="#404040" stroke-width="0.15">1.00</text>
<path fill="#000000" d="M584.35 170.70h1.50v1.45h-1.50zM590.35 170.70h1.50v1.45h-1.50zM596.35 170.70h1.50v1.45h-1.50zM602.35 170.70h1.50v1.45h-1.50zM608.35 170.70h1.50v1.45h-1.50zM614.35 170.70h1.50v1.45h-1.50zM620.35 170.70h1.50v1.45h-1.50zM626.35 170.70h1.50v1.45h-1.50zM585.85 172.15h1.50v1.50h-1.50zM591.85 172.15h1.50v1.50h-1.50zM597.85 172.15h1.50v1.50h-1.50zM603.85 172.15h1.50v1.50h-1.50zM609.85 172.15h1.50v1.50h-1.50zM615.85 172.15h1.50v1.50h-1.50zM621.85 172.15h1.50v1.50h-1.50zM587.35 173.65h1.50v1.50h-1.50zM593.35 173.65h1.50v1.50h-1.50zM599.35 173.65h1.50v1.50h-1.50zM605.35 173.65h1.50v1.50h-1.50zM611.35 173.65h1.50v1.50h-1.50zM617.35 173.65h1.50v1.50h-1.50zM623.35 173.65h1.50v1.50h-1.50zM584.30 175.15h0.05v1.50h-0.05zM588.85 175.15h1.50v1.50h-1.50zM594.85 175.15h1.50v1.50h-1.50zM600.85 175.15h1.50v1.50h-1.50zM606.85 175.15h1.50v1.50h-1.50zM612.85 175.15h1.50v1.50h-1.50zM618.85 175.15h1.50v1.50h-1.50zM624.85 175.15h1.50v1.50h-1.50zM584.35 176.65h1.50v1.50h-1.50zM590.35 176.65h1.50v1.50h-1.50zM596.35 176.65h1.50v1.50h-1.50zM602.35 176.65h1.50v1.50h-1.50zM608.35 176.65h1.50v1.50h-1.50zM614.35 176.65h1.50v1.50h-1.50zM620.35 176.65h1.50v1.50h-1.50zM626.35 176.65h1.50v1.50h-1.50zM585.85 178.15h1.50v1.50h-1.50zM591.85 178.15h1.50v1.50h-1.50zM597.85 178.15h1.50v1.50h-1.50zM603.85 178.15h1.50v1.50h-1.50zM609.85 178.15h1.50v1.50h-1.50zM615.85 178.15h1.50v1.50h-1.50zM621.85 178.15h1.50v1.50h-1.50zM587.35 179.65h1.50v1.50h-1.50zM593.35 179.65h1.50v1.50h-1.50zM599.35 179.65h1.50v1.50h-1.50zM605.35 179.65h1.50v1.50h-1.50zM611.35 179.65h1.50v1.50h-1.50zM617.35 179.65h1.50v1.50h-1.50zM623.35 179.65h1.50v1.50h-1.50zM584.30 181.15h0.05v1.50h-0.05zM588.85 181.15h1.50v1.50h-1.50zM594.85 181.15h1.50v1.50h-1.50zM600.85 181.15h1.50v1.50h-1.50zM606.85 181.15h1.50v1.50h-1.50zM612.85 181.15h1.50v1.50h-1.50zM618.85 181.15h1.50v1.50h-1.50zM624.85 181.15h1.50v1.50h-1.50zM584.35 182.65h1.50v1.50h-1.50zM590.35 182.65h1.50v1.50h-1.50zM596.35 182.65h1.50v1.50h-1.50zM602.35 182.65h1.50v1.50h-1.50zM608.35 182.65h1.50v1.50h-1.50zM614.35 182.65h1.50v1.50h-1.50zM620.35 182.65h1.50v1.50h-1.50zM626.35 182.65h1.50v1.50h-1.50zM585.85 184.15h1.50v1.50h-1.50zM591.85 184.15h1.50v1.50h-1.50zM597.85 184.15h1.50v1.50h-1.50zM603.85 184.15h1.50v1.50h-1.50zM609.85 184.15h1.50v1.50h-1.50zM615.85 184.15h1.50v1.50h-1.50zM621.85 184.15h1.50v1.50h-1.50zM587.35 185.65h1.50v1.50h-1.50zM593.35 185.65h1.50v1.50h-1.50zM599.35 185.65h1.50v1.50h-1.50zM605.35 185.65h1.50v1.50h-1.50zM611.35 185.65h1.50v1.50h-1.50zM617.35 185.65h1.50v1.50h-1.50zM623.35 185.65h1.50v1.50h-1.50zM584.30 187.15h0.05v1.50h-0.05zM588.85 187.15h1.50v1.50h-1.50zM594.85 187.15h1.50v1.50h-1.50zM600.85 187.15h1.50v1.50h-1.50zM606.85 187.15h1.50v1.50h-1.50zM612.85 187.15h1.50v1.50h-1.50zM618.85 187.15h1.50v1.50h-1.50zM624.85 187.15h1.50v1.50h-1.50zM584.35 188.65h1.50v1.50h-1.50zM590.35 188.65h1.50v1.50h-1.50zM596.35 188.65h1.50v1.50h-1.50zM602.35 188.65h1.50v1.50h-1.50zM608.35 188.65h1.50v1.50h-1.50zM614.35 188.65h1.50v1.50h-1.50zM620.35 188.65h1.50v1.50h-1.50zM626.35 188.65h1.50v1.50h-1.50zM585.85 190.15h1.50v1.50h-1.50zM591.85 190.15h1.50v1.50h-1.50zM597.85 190.15h1.50v1.50h-1.50zM603.85 190.15h1.50v1.50h-1.50zM609.85 190.15h1.50v1.50h-1.50zM615.85 190.15h1.50v1.50h-1.50zM621.85 190.15h1.50v1.50h-1.50zM587.35 191.65h1.50v1.50h-1.50zM593.35 191.65h1.50v1.50h-1.50zM599.35 191.65h1.50v1.50h-1.50zM605.35 191.65h1.50v1.50h-1.50zM611.35 191.65h1.50v1.50h-1.50zM617.35 191.65h1.50v1.50h-1.50zM623.35 191.65h1.50v1.50h-1.50zM584.30 193.15h0.05v1.50h-0.05zM588.85 193.15h1.50v1.50h-1.50zM594.85 193.15h1.50v1.50h-1.50zM600.85 193.15h1.50v1.50h-1.50zM606.85 193.15h1.50v1.50h-1.50zM612.85 193.15h1.50v1.50h-1.50zM618.85 193.15h1.50v1.50h-1.50zM624.85 193.15h1.50v1.50h-1.50zM584.35 194.65h1.50v1.50h-1.50zM590.35 194.65h1.50v1.50h-1.50zM596.35 194.65h1.50v1.50h-1.50zM602.35 194.65h1.50v1.50h-1.50zM608.35 194.65h1.50v1.50h-1.50zM614.35 194.65h1.50v1.50h-1.50zM620.35 194.65h1.50v1.50h-1.50zM626.35 194.65h1.50v1.50h-1.50zM585.85 196.15h1.50v1.50h-1.50zM591.85 196.15h1.50v1.50h-1.50zM597.85 196.15h1.50v1.50h-1.50zM603.85 196.15h1.50v1.50h-1.50zM609.85 196.15h1.50v1.50h-1.50zM615.85 196.15h1.50v1.50h-1.50zM621.85 196.15h1.50v1.50h-1.50zM587.35 197.65h1.50v1.50h-1.50zM593.35 197.65h1.50v1.50h-1.50zM599.35 197.65h1.50v1.50h-1.50zM605.35 197.65h1.50v1.50h-1.50zM611.35 197.65h1.50v1.50h-1.50zM617.35 197.65h1.50v1.50h-1.50zM623.35 197.65h1.50v1.50h-1.50zM584.30 199.15h0.05v1.50h-0.05zM588.85 199.15h1.50v1.50h-1.50zM594.85 199.15h1.50v1.50h-1.50zM600.85 199.15h1.50v1.50h-1.50zM606.85 199.15h1.50v1.50h-1.50zM612.85 199.15h1.50v1.50h-1.50zM618.85 199.15h1.50v1.50h-1.50zM624.85 199.15h1.50v1.50h-1.50zM584.35 200.65h1.50v1.50h-1.50zM590.35 200.65h1.50v1.50h-1.50zM596.35 200.65h1.50v1.50h-1.50zM602.35 200.65h1.50v1.50h-1.50zM608.35 200.65h1.50v1.50h-1.50zM614.35 200.65h1.50v1.50h-1.50zM620.35 200.65h1.50v1.50h-1.50zM626.35 200.65h1.50v1.50h-1.50zM585.85 202.15h1.50v1.50h-1.50zM591.85 202.15h1.50v1.50h-1.50zM597.85 202.15h1.50v1.50h-1.50zM603.85 202.15h1.50v1.50h-1.50zM609.85 202.15h1.50v1.50h-1.50zM615.85 202.15h1.50v1.50h-1.50zM621.85 202.15h1.50v1.50h-1.50zM587.35 203.65h1.50v1.50h-1.50zM593.35 203.65h1.50v1.50h-1.50zM599.35 203.65h1.50v1.50h-1.50zM605.35 203.65h1.50v1.50h-1.50zM611.35 203.65h1.50v1.50h-1.50zM617.35 203.65h1.50v1.50h-1.50zM623.35 203.65h1.50v1.50h-1.50zM584.30 205.15h0.05v1.50h-0.05zM588.85 205.15h1.50v1.50h-1.50zM594.85 205.15h1.50v1.50h-1.50zM600.85 205.15h1.50v1.50h-1.50zM606.85 205.15h1.50v1.50h-1.50zM612.85 205.15h1.50v1.50h-1.50zM618.85 205.15h1.50v1.50h-1.50zM624.85 205.15h1.50v1.50h-1.50zM584.35 206.65h1.50v1.50h-1.50zM590.35 206.65h1.50v1.50h-1.50zM596.35 206.65h1.50v1.50h-1.50zM602.35 206.65h1.50v1.50h-1.50zM608.35 206.65h1.50v1.50h-1.50zM614.35 206.65h1.50v1.50h-1.50zM620.35 206.65h1.50v1.50h-1.50zM626.35 206.65h1.50v1.50h-1.50zM585.85 208.15h1.50v1.50h-1.50zM591.85 208.15h1.50v1.50h-1.50zM597.85 208.15h1.50v1.50h-1.50zM603.85 208.15h1.50v1.50h-1.50zM609.85 208.15h1.50v1.50h-1.50zM615.85 208.15h1.50v1.50h-1.50zM621.85 208.15h1.50v1.50h-1.50zM587.35 209.65h1.50v1.50h-1.50zM593.35 209.65h1.50v1.50h-1.50zM599.35 209.65h1.50v1.50h-1.50zM605.35 209.65h1.50v1.50h-1.50zM611.35 209.65h1.50v1.50h-1.50zM617.35 209.65h1.50v1.50h-1.50zM623.35 209.65h1.50v1.50h-1.50zM584.30 211.15h0.05v1.50h-0.05zM588.85 211.15h1.50v1.50h-1.50zM594.85 211.15h1.50v1.50h-1.50zM600.85 211.15h1.50v1.50h-1.50zM606.85 211.15h1.50v1.50h-1.50zM612.85 211.15h1.50v1.50h-1.50zM618.85 211.15h1.50v1.50h-1.50zM624.85 211.15h1.50v1.50h-1.50zM584.35 212.65h1.50v1.50h-1.50zM590.35 212.65h1.50v1.50h-1.50zM596.35 212.65h1.50v1.50h-1.50zM602.35 212.65h1.50v1.50h-1.50zM608.35 212.65h1.50v1.50h-1.50zM614.35 212.65h1.50v1.50h-1.50zM620.35 212.65h1.50v1.50h-1.50zM626.35 212.65h1.50v1.50h-1.50zM585.85 214.15h1.50v1.50h-1.50zM591.85 214.15h1.50v1.50h-1.50zM597.85 214.15h1.50v1.50h-1.50zM603.85 214.15h1.50v1.50h-1.50zM609.85 214.15h1.50v1.50h-1.50zM615.85 214.15h1.50v1.50h-1.50zM621.85 214.15h1.50v1.50h-1.50zM587.35 215.65h1.50v1.50h-1.50zM593.35 215.65h1.50v1.50h-1.50zM599.35 215.65h1.50v1.50h-1.50zM605.35 215.65h1.50v1.50h-1.50zM611.35 215.65h1.50v1.50h-1.50zM617.35 215.65h1.50v1.50h-1.50zM623.35 215.65h1.50v1.50h-1.50zM584.30 217.15h0.05v1.50h-0.05zM588.85 217.15h1.50v1.50h-1.50zM594.85 217.15h1.50v1.50h-1.50zM600.85 217.15h1.50v1.50h-1.50zM606.85 217.15h1.50v1.50h-1.50zM612.85 217.15h1.50v1.50h-1.50zM618.85 217.15h1.50v1.50h-1.50zM624.85 217.15h1.50v1.50h-1.50zM584.35 218.65h1.50v1.50h-1.50zM590.35 218.65h1.50v1.50h-1.50zM596.35 218.65h1.50v1.50h-1.50zM602.35 218.65h1.50v1.50h-1.50zM608.35 218.65h1.50v1.50h-1.50zM614.35 218.65h1.50v1.50h-1.50zM620.35 218.65h1.50v1.50h-1.50zM626.35 218.65h1.50v1.50h-1.50zM585.85 220.15h1.50v1.50h-1.50zM591.85 220.15h1.50v1.50h-1.50zM597.85 220.15h1.50v1.50h-1.50zM603.85 220.15h1.50v1.50h-1.50zM609.85 220.15h1.50v1.50h-1.50zM615.85 220.15h1.50v1.50h-1.50zM621.85 220.15h1.50v1.50h-1.50zM587.35 221.65h1.50v1.50h-1.50zM593.35 221.65h1.50v1.50h-1.50zM599.35 221.65h1.50v1.50h-1.50zM605.35 221.65h1.50v1.50h-1.50zM611.35 221.65h1.50v1.50h-1.50zM617.35 221.65h1.50v1.50h-1.50zM623.35 221.65h1.50v1.50h-1.50zM584.30 223.15h0.05v1.50h-0.05zM588.85 223.15h1.50v1.50h-1.50zM594.85 223.15h1.50v1.50h-1.50zM600.85 223.15h1.50v1.50h-1.50zM606.85 223.15h1.50v1.50h-1.50zM612.85 223.15h1.50v1.50h-1.50zM618.85 223.15h1.50v1.50h-1.50zM624.85 223.15h1.50v1.50h-1.50zM584.35 224.65h1.50v1.50h-1.50zM590.35 224.65h1.50v1.50h-1.50zM596.35 224.65h1.50v1.50h-1.50zM602.35 224.65h1.50v1.50h-1.50zM608.35 224.65h1.50v1.50h-1.50zM614.35 224.65h1.50v1.50h-1.50zM620.35 224.65h1.50v1.50h-1.50zM626.35 224.65h1.50v1.50h-1.50zM585.85 226.15h1.50v1.50h-1.50zM591.85 226.15h1.50v1.50h-1.50zM597.85 226.15h1.50v1.50h-1.50zM603.85 226.15h1.50v1.50h-1.50zM609.85 226.15h1.50v1.50h-1.50zM615.85 226.15h1.50v1.50h-1.50zM621.85 226.15h1.50v1.50h-1.50zM587.35 227.65h1.50v1.50h-1.50zM593.35 227.65h1.50v1.50h-1.50zM599.35 227.65h1.50v1.50h-1.50zM605.35 227.65h1.50v1.50h-1.50zM611.35 227.65h1.50v1.50h-1.50zM617.35 227.65h1.50v1.50h-1.50zM623.35 227.65h1.50v1.50h-1.50zM584.30 229.15h0.05v1.50h-0.05zM588.85 229.15h1.50v1.50h-1.50zM594.85 229.15h1.50v1.50h-1.50zM600.85 229.15h1.50v1.50h-1.50zM606.85 229.15h1.50v1.50h-1.50zM612.85 229.15h1.50v1.50h-1.50zM618.85 229.15h1.50v1.50h-1.50zM624.85 229.15h1.50v1.50h-1.50zM584.35 230.65h1.50v1.50h-1.50zM590.35 230.65h1.50v1.50h-1.50zM596.35 230.65h1.50v1.50h-1.50zM602.35 230.65h1.50v1.50h-1.50zM608.35 230.65h1.50v1.50h-1.50zM614.35 230.65h1.50v1.50h-1.50zM620.35 230.65h1.50v1.50h-1.50zM626.35 230.65h1.50v1.50h-1.50zM585.85 232.15h1.50v1.50h-1.50zM591.85 232.15h1.50v1.50h-1.50zM597.85 232.15h1.50v1.50h-1.50zM603.85 232.15h1.50v1.50h-1.50zM609.85 232.15h1.50v1.50h-1.50zM615.85 232.15h1.50v1.50h-1.50zM621.85 232.15h1.50v1.50h-1.50zM587.35 233.65h1.50v1.50h-1.50zM593.35 233.65h1.50v1.50h-1.50zM599.35 233.65h1.50v1.50h-1.50zM605.35 233.65h1.50v1.50h-1.50zM611.35 233.65h1.50v1.50h-1.50zM617.35 233.65h1.50v1.50h-1.50zM623.35 233.65h1.50v1.50h-1.50zM584.30 235.15h0.05v1.50h-0.05zM588.85 235.15h1.50v1.50h-1.50zM594.85 235.15h1.50v1.50h-1.50zM600.85 235.15h1.50v1.50h-1.50zM606.85 235.15h1.50v1.50h-1.50zM612.85 235.15h1.50v1.50h-1.50zM618.85 235.15h1.50v1.50h-1.50zM624.85 235.15h1.50v1.50h-1.50zM584.35 236.65h1.50v1.50h-1.50zM590.35 236.65h1.50v1.50h-1.50zM596.35 236.65h1.50v1.50h-1.50zM602.35 236.65h1.50v1.50h-1.50zM608.35 236.65h1.50v1.50h-1.50zM614.35 236.65h1.50v1.50h-1.50zM620.35 236.65h1.50v1.50h-1.50zM626.35 236.65h1.50v1.50h-1.50zM585.85 238.15h1.50v1.50h-1.50zM591.85 238.15h1.50v1.50h-1.50zM597.85 238.15h1.50v1.50h-1.50zM603.85 238.15h1.50v1.50h-1.50zM609.85 238.15h1.50v1.50h-1.50zM615.85 238.15h1.50v1.50h-1.50zM621.85 238.15h1.50v1.50h-1.50zM587.35 239.65h1.50v1.50h-1.50zM593.35 239.65h1.50v1.50h-1.50zM599.35 239.65h1.50v1.50h-1.50zM605.35 239.65h1.50v1.50h-1.50zM611.35 239.65h1.50v1.50h-1.50zM617.35 239.65h1.50v1.50h-1.50zM623.35 239.65h1.50v1.50h-1.50zM584.30 241.15h0.05v1.50h-0.05zM588.85 241.15h1.50v1.50h-1.50zM594.85 241.15h1.50v1.50h-1.50zM600.85 241.15h1.50v1.50h-1.50zM606.85 241.15h1.50v1.50h-1.50zM612.85 241.15h1.50v1.50h-1.50zM618.85 241.15h1.50v1.50h-1.50zM624.85 241.15h1.50v1.50h-1.50zM584.35 242.65h1.50v1.50h-1.50zM590.35 242.65h1.50v1.50h-1.50zM596.35 242.65h1.50v1.50h-1.50zM602.35 242.65h1.50v1.50h-1.50zM608.35 242.65h1.50v1.50h-1.50zM614.35 242.65h1.50v1.50h-1.50zM620.35 242.65h1.50v1.50h-1.50zM626.35 242.65h1.50v1.50h-1.50zM585.85 244.15h1.50v1.50h-1.50zM591.85 244.15h1.50v1.50h-1.50zM597.85 244.15h1.50v1.50h-1.50zM603.85 244.15h1.50v1.50h-1.50zM609.85 244.15h1.50v1.50h-1.50zM615.85 244.15h1.50v1.50h-1.50zM621.85 244.15h1.50v1.50h-1.50zM587.35 245.65h1.50v1.50h-1.50zM593.35 245.65h1.50v1.50h-1.50zM599.35 245.65h1.50v1.50h-1.50zM605.35 245.65h1.50v1.50h-1.50zM611.35 245.65h1.50v1.50h-1.50zM617.35 245.65h1.50v1.50h-1.50zM623.35 245.65h1.50v1.50h-1.50zM584.30 247.15h0.05v1.50h-0.05zM588.85 247.15h1.50v1.50h-1.50zM594.85 247.15h1.50v1.50h-1.50zM600.85 247.15h1.50v1.50h-1.50zM606.85 247.15h1.50v1.50h-1.50zM612.85 247.15h1.50v1.50h-1.50zM618.85 247.15h1.50v1.50h-1.50zM624.85 247.15h1.50v1.50h-1.50zM584.35 248.65h1.50v1.50h-1.50zM590.35 248.65h1.50v1.50h-1.50zM596.35 248.65h1.50v1.50h-1.50zM602.35 248.65h1.50v1.50h-1.50zM608.35 248.65h1.50v1.50h-1.50zM614.35 248.65h1.50v1.50h-1.50zM620.35 248.65h1.50v1.50h-1.50zM626.35 248.65h1.50v1.50h-1.50zM585.85 250.15h1.50v1.50h-1.50zM591.85 250.15h1.50v1.50h-1.50zM597.85 250.15h1.50v1.50h-1.50zM603.85 250.15h1.50v1.50h-1.50zM609.85 250.15h1.50v1.50h-1.50zM615.85 250.15h1.50v1.50h-1.50zM621.85 250.15h1.50v1.50h-1.50zM587.35 251.65h1.50v1.50h-1.50zM593.35 251.65h1.50v1.50h-1.50zM599.35 251.65h1.50v1.50h-1.50zM605.35 251.65h1.50v1.50h-1.50zM611.35 251.65h1.50v1.50h-1.50zM617.35 251.65h1.50v1.50h-1.50zM623.35 251.65h1.50v1.50h-1.50zM584.30 253.15h0.05v1.50h-0.05zM588.85 253.15h1.50v1.50h-1.50zM594.85 253.15h1.50v1.50h-1.50zM600.85 253.15h1.50v1.50h-1.50zM606.85 253.15h1.50v1.50h-1.50zM612.85 253.15h1.50v1.50h-1.50zM618.85 253.15h1.50v1.50h-1.50zM624.85 253.15h1.50v1.50h-1.50zM584.35 254.65h1.50v1.50h-1.50zM590.35 254.65h1.50v1.50h-1.50zM596.35 254.65h1.50v1.50h-1.50zM602.35 254.65h1.50v1.50h-1.50zM608.35 254.65h1.50v1.50h-1.50zM614.35 254.65h1.50v1.50h-1.50zM620.35 254.65h1.50v1.50h-1.50zM626.35 254.65h1.50v1.50h-1.50zM585.85 256.15h1.50v1.50h-1.50zM591.85 256.15h1.50v1.50h-1.50zM597.85 256.15h1.50v1.50h-1.50zM603.85 256.15h1.50v1.50h-1.50zM609.85 256.15h1.50v1.50h-1.50zM615.85 256.15h1.50v1.50h-1.50zM621.85 256.15h1.50v1.50h-1.50zM587.35 257.65h1.50v1.50h-1.50zM593.35 257.65h1.50v1.50h-1.50zM599.35 257.65h1.50v1.50h-1.50zM605.35 257.65h1.50v1.50h-1.50zM611.35 257.65h1.50v1.50h-1.50zM617.35 257.65h1.50v1.50h-1.50zM623.35 257.65h1.50v1.50h-1.50zM584.30 259.15h0.05v1.50h-0.05zM588.85 259.15h1.50v1.50h-1.50zM594.85 259.15h1.50v1.50h-1.50zM600.85 259.15h1.50v1.50h-1.50zM606.85 259.15h1.50v1.50h-1.50zM612.85 259.15h1.50v1.50h-1.50zM618.85 259.15h1.50v1.50h-1.50zM624.85 259.15h1.50v1.50h-1.50zM584.35 260.65h1.50v1.50h-1.50zM590.35 260.65h1.50v1.50h-1.50zM596.35 260.65h1.50v1.50h-1.50zM602.35 260.65h1.50v1.50h-1.50zM608.35 260.65h1.50v1.50h-1.50zM614.35 260.65h1.50v1.50h-1.50zM620.35 260.65h1.50v1.50h-1.50zM626.35 260.65h1.50v1.50h-1.50zM585.85 262.15h1.50v1.50h-1.50zM591.85 262.15h1.50v1.50h-1.50zM597.85 262.15h1.50v1.50h-1.50zM603.85 262.15h1.50v1.50h-1.50zM609.85 262.15h1.50v1.50h-1.50zM615.85 262.15h1.50v1.50h-1.50zM621.85 262.15h1.50v1.50h-1.50zM587.35 263.65h1.50v1.50h-1.50zM593.35 263.65h1.50v1.50h-1.50zM599.35 263.65h1.50v1.50h-1.50zM605.35 263.65h1.50v1.50h-1.50zM611.35 263.65h1.50v1.50h-1.50zM617.35 263.65h1.50v1.50h-1.50zM623.35 263.65h1.50v1.50h-1.50zM584.30 265.15h0.05v1.50h-0.05zM588.85 265.15h1.50v1.50h-1.50zM594.85 265.15h1.50v1.50h-1.50zM600.85 265.15h1.50v1.50h-1.50zM606.85 265.15h1.50v1.50h-1.50zM612.85 265.15h1.50v1.50h-1.50zM618.85 265.15h1.50v1.50h-1.50zM624.85 265.15h1.50v1.50h-1.50zM584.35 266.65h1.50v1.50h-1.50zM590.35 266.65h1.50v1.50h-1.50zM596.35 266.65h1.50v1.50h-1.50zM602.35 266.65h1.50v1.50h-1.50zM608.35 266.65h1.50v1.50h-1.50zM614.35 266.65h1.50v1.50h-1.50zM620.35 266.65h1.50v1.50h-1.50zM626.35 266.65h1.50v1.50h-1.50zM585.85 268.15h1.50v1.50h-1.50zM591.85 268.15h1.50v1.50h-1.50zM597.85 268.15h1.50v1.50h-1.50zM603.85 268.15h1.50v1.50h-1.50zM609.85 268.15h1.50v1.50h-1.50zM615.85 268.15h1.50v1.50h-1.50zM621.85 268.15h1.50v1.50h-1.50zM587.35 269.65h1.50v1.50h-1.50zM593.35 269.65h1.50v1.50h-1.50zM599.35 269.65h1.50v1.50h-1.50zM605.35 269.65h1.50v1.50h-1.50zM611.35 269.65h1.50v1.50h-1.50zM617.35 269.65h1.50v1.50h-1.50zM623.35 269.65h1.50v1.50h-1.50zM584.30 271.15h0.05v1.50h-0.05zM588.85 271.15h1.50v1.50h-1.50zM594.85 271.15h1.50v1.50h-1.50zM600.85 271.15h1.50v1.50h-1.50zM606.85 271.15h1.50v1.50h-1.50zM612.85 271.15h1.50v1.50h-1.50zM618.85 271.15h1.50v1.50h-1.50zM624.85 271.15h1.50v1.50h-1.50zM584.35 272.65h1.50v1.50h-1.50zM590.35 272.65h1.50v1.50h-1.50zM596.35 272.65h1.50v1.50h-1.50zM602.35 272.65h1.50v1.50h-1.50zM608.35 272.65h1.50v1.50h-1.50zM614.35 272.65h1.50v1.50h-1.50zM620.35 272.65h1.50v1.50h-1.50zM626.35 272.65h1.50v1.50h-1.50zM585.85 274.15h1.50v1.50h-1.50zM591.85 274.15h1.50v1.50h-1.50zM597.85 274.15h1.50v1.50h-1.50zM603.85 274.15h1.50v1.50h-1.50zM609.85 274.15h1.50v1.50h-1.50zM615.85 274.15h1.50v1.50h-1.50zM621.85 274.15h1.50v1.50h-1.50zM587.35 275.65h1.50v1.50h-1.50zM593.35 275.65h1.50v1.50h-1.50zM599.35 275.65h1.50v1.50h-1.50zM605.35 275.65h1.50v1.50h-1.50zM611.35 275.65h1.50v1.50h-1.50zM617.35 275.65h1.50v1.50h-1.50zM623.35 275.65h1.50v1.50h-1.50zM584.30 277.15h0.05v1.50h-0.05zM588.85 277.15h1.50v1.50h-1.50zM594.85 277.15h1.50v1.50h-1.50zM600.85 277.15h1.50v1.50h-1.50zM606.85 277.15h1.50v1.50h-1.50zM612.85 277.15h1.50v1.50h-1.50zM618.85 277.15h1.50v1.50h-1.50zM624.85 277.15h1.50v1.50h-1.50zM584.35 278.65h1.50v1.50h-1.50zM590.35 278.65h1.50v1.50h-1.50zM596.35 278.65h1.50v1.50h-1.50zM602.35 278.65h1.50v1.50h-1.50zM608.35 278.65h1.50v1.50h-1.50zM614.35 278.65h1.50v1.50h-1.50zM620.35 278.65h1.50v1.50h-1.50zM626.35 278.65h1.50v1.50h-1.50zM585.85 280.15h1.50v1.50h-1.50zM591.85 280.15h1.50v1.50h-1.50zM597.85 280.15h1.50v1.50h-1.50zM603.85 280.15h1.50v1.50h-1.50zM609.85 280.15h1.50v1.50h-1.50zM615.85 280.15h1.50v1.50h-1.50zM621.85 280.15h1.50v1.50h-1.50zM587.35 281.65h1.50v1.50h-1.50zM593.35 281.65h1.50v1.50h-1.50zM599.35 281.65h1.50v1.50h-1.50zM605.35 281.65h1.50v1.50h-1.50zM611.35 281.65h1.50v1.50h-1.50zM617.35 281.65h1.50v1.50h-1.50zM623.35 281.65h1.50v1.50h-1.50zM584.30 283.15h0.05v1.50h-0.05zM588.85 283.15h1.50v1.50h-1.50zM594.85 283.15h1.50v1.50h-1.50zM600.85 283.15h1.50v1.50h-1.50zM606.85 283.15h1.50v1.50h-1.50zM612.85 283.15h1.50v1.50h-1.50zM618.85 283.15h1.50v1.50h-1.50zM624.85 283.15h1.50v1.50h-1.50zM584.35 284.65h1.50v1.50h-1.50zM590.35 284.65h1.50v1.50h-1.50zM596.35 284.65h1.50v1.50h-1.50zM602.35 284.65h1.50v1.50h-1.50zM608.35 284.65h1.50v1.50h-1.50zM614.35 284.65h1.50v1.50h-1.50zM620.35 284.65h1.50v1.50h-1.50zM626.35 284.65h1.50v1.50h-1.50zM585.85 286.15h1.50v1.50h-1.50zM591.85 286.15h1.50v1.50h-1.50zM597.85 286.15h1.50v1.50h-1.50zM603.85 286.15h1.50v1.50h-1.50zM609.85 286.15h1.50v1.50h-1.50zM615.85 286.15h1.50v1.50h-1.50zM621.85 286.15h1.50v1.50h-1.50zM587.35 287.65h1.50v1.50h-1.50zM593.35 287.65h1.50v1.50h-1.50zM599.35 287.65h1.50v1.50h-1.50zM605.35 287.65h1.50v1.50h-1.50zM611.35 287.65h1.50v1.50h-1.50zM617.35 287.65h1.50v1.50h-1.50zM623.35 287.65h1.50v1.50h-1.50zM584.30 289.15h0.05v1.50h-0.05zM588.85 289.15h1.50v1.50h-1.50zM594.85 289.15h1.50v1.50h-1.50zM600.85 289.15h1.50v1.50h-1.50zM606.85 289.15h1.50v1.50h-1.50zM612.85 289.15h1.50v1.50h-1.50zM618.85 289.15h1.50v1.50h-1.50zM624.85 289.15h1.50v1.50h-1.50zM584.35 290.65h1.50v1.50h-1.50zM590.35 290.65h1.50v1.50h-1.50zM596.35 290.65h1.50v1.50h-1.50zM602.35 290.65h1.50v1.50h-1.50zM608.35 290.65h1.50v1.50h-1.50zM614.35 290.65h1.50v1.50h-1.50zM620.35 290.65h1.50v1.50h-1.50zM626.35 290.65h1.50v1.50h-1.50zM585.85 292.15h1.50v1.50h-1.50zM591.85 292.15h1.50v1.50h-1.50zM597.85 292.15h1.50v1.50h-1.50zM603.85 292.15h1.50v1.50h-1.50zM609.85 292.15h1.50v1.50h-1.50zM615.85 292.15h1.50v1.50h-1.50zM621.85 292.15h1.50v1.50h-1.50zM587.35 293.65h1.50v1.50h-1.50zM593.35 293.65h1.50v1.50h-1.50zM599.35 293.65h1.50v1.50h-1.50zM605.35 293.65h1.50v1.50h-1.50zM611.35 293.65h1.50v1.50h-1.50zM617.35 293.65h1.50v1.50h-1.50zM623.35 293.65h1.50v1.50h-1.50zM584.30 295.15h0.05v1.50h-0.05zM588.85 295.15h1.50v1.50h-1.50zM594.85 295.15h1.50v1.50h-1.50zM600.85 295.15h1.50v1.50h-1.50zM606.85 295.15h1.50v1.50h-1.50zM612.85 295.15h1.50v1.50h-1.50zM618.85 295.15h1.50v1.50h-1.50zM624.85 295.15h1.50v1.50h-1.50zM584.35 296.65h1.50v1.50h-1.50zM590.35 296.65h1.50v1.50h-1.50zM596.35 296.65h1.50v1.50h-1.50zM602.35 296.65h1.50v1.50h-1.50zM608.35 296.65h1.50v1.50h-1.50zM614.35 296.65h1.50v1.50h-1.50zM620.35 296.65h1.50v1.50h-1.50zM626.35 296.65h1.50v1.50h-1.50zM585.85 298.15h1.50v1.50h-1.50zM591.85 298.15h1.50v1.50h-1.50zM597.85 298.15h1.50v1.50h-1.50zM603.85 298.15h1.50v1.50h-1.50zM609.85 298.15h1.50v1.50h-1.50zM615.85 298.15h1.50v1.50h-1.50zM621.85 298.15h1.50v1.50h-1.50zM587.35 299.65h1.50v1.50h-1.50zM593.35 299.65h1.50v1.50h-1.50zM599.35 299.65h1.50v1.50h-1.50zM605.35 299.65h1.50v1.50h-1.50zM611.35 299.65h1.50v1.50h-1.50zM617.35 299.65h1.50v1.50h-1.50zM623.35 299.65h1.50v1.50h-1.50zM584.30 301.15h0.05v1.50h-0.05zM588.85 301.15h1.50v1.50h-1.50zM594.85 301.15h1.50v1.50h-1.50zM600.85 301.15h1.50v1.50h-1.50zM606.85 301.15h1.50v1.50h-1.50zM612.85 301.15h1.50v1.50h-1.50zM618.85 301.15h1.50v1.50h-1.50zM624.85 301.15h1.50v1.50h-1.50zM584.35 302.65h1.50v1.50h-1.50zM590.35 302.65h1.50v1.50h-1.50zM596.35 302.65h1.50v1.50h-1.50zM602.35 302.65h1.50v1.50h-1.50zM608.35 302.65h1.50v1.50h-1.50zM614.35 302.65h1.50v1.50h-1.50zM620.35 302.65h1.50v1.50h-1.50zM626.35 302.65h1.50v1.50h-1.50zM585.85 304.15h1.50v1.50h-1.50zM591.85 304.15h1.50v1.50h-1.50zM597.85 304.15h1.50v1.50h-1.50zM603.85 304.15h1.50v1.50h-1.50zM609.85 304.15h1.50v1.50h-1.50zM615.85 304.15h1.50v1.50h-1.50zM621.85 304.15h1.50v1.50h-1.50zM587.35 305.65h1.50v1.50h-1.50zM593.35 305.65h1.50v1.50h-1.50zM599.35 305.65h1.50v1.50h-1.50zM605.35 305.65h1.50v1.50h-1.50zM611.35 305.65h1.50v1.50h-1.50zM617.35 305.65h1.50v1.50h-1.50zM623.35 305.65h1.50v1.50h-1.50zM584.30 307.15h0.05v1.50h-0.05zM588.85 307.15h1.50v1.50h-1.50zM594.85 307.15h1.50v1.50h-1.50zM600.85 307.15h1.50v1.50h-1.50zM606.85 307.15h1.50v1.50h-1.50zM612.85 307.15h1.50v1.50h-1.50zM618.85 307.15h1.50v1.50h-1.50zM624.85 307.15h1.50v1.50h-1.50zM584.35 308.65h1.50v1.50h-1.50zM590.35 308.65h1.50v1.50h-1.50zM596.35 308.65h1.50v1.50h-1.50zM602.35 308.65h1.50v1.50h-1.50zM608.35 308.65h1.50v1.50h-1.50zM614.35 308.65h1.50v1.50h-1.50zM620.35 308.65h1.50v1.50h-1.50zM626.35 308.65h1.50v1.50h-1.50zM585.85 310.15h1.50v1.50h-1.50zM591.85 310.15h1.50v1.50h-1.50zM597.85 310.15h1.50v1.50h-1.50zM603.85 310.15h1.50v1.50h-1.50zM609.85 310.15h1.50v1.50h-1.50zM615.85 310.15h1.50v1.50h-1.50zM621.85 310.15h1.50v1.50h-1.50zM587.35 311.65h1.50v1.50h-1.50zM593.35 311.65h1.50v1.50h-1.50zM599.35 311.65h1.50v1.50h-1.50zM605.35 311.65h1.50v1.50h-1.50zM611.35 311.65h1.50v1.50h-1.50zM617.35 311.65h1.50v1.50h-1.50zM623.35 311.65h1.50v1.50h-1.50zM584.30 313.15h0.05v1.50h-0.05zM588.85 313.15h1.50v1.50h-1.50zM594.85 313.15h1.50v1.50h-1.50zM600.85 313.15h1.50v1.50h-1.50zM606.85 313.15h1.50v1.50h-1.50zM612.85 313.15h1.50v1.50h-1.50zM618.85 313.15h1.50v1.50h-1.50zM624.85 313.15h1.50v1.50h-1.50zM584.35 314.65h1.50v1.50h-1.50zM590.35 314.65h1.50v1.50h-1.50zM596.35 314.65h1.50v1.50h-1.50zM602.35 314.65h1.50v1.50h-1.50zM608.35 314.65h1.50v1.50h-1.50zM614.35 314.65h1.50v1.50h-1.50zM620.35 314.65h1.50v1.50h-1.50zM626.35 314.65h1.50v1.50h-1.50zM585.85 316.15h1.50v1.50h-1.50zM591.85 316.15h1.50v1.50h-1.50zM597.85 316.15h1.50v1.50h-1.50zM603.85 316.15h1.50v1.50h-1.50zM609.85 316.15h1.50v1.50h-1.50zM615.85 316.15h1.50v1.50h-1.50zM621.85 316.15h1.50v1.50h-1.50zM587.35 317.65h1.50v1.50h-1.50zM593.35 317.65h1.50v1.50h-1.50zM599.35 317.65h1.50v1.50h-1.50zM605.35 317.65h1.50v1.50h-1.50zM611.35 317.65h1.50v1.50h-1.50zM617.35 317.65h1.50v1.50h-1.50zM623.35 317.65h1.50v1.50h-1.50zM584.30 319.15h0.05v1.50h-0.05zM588.85 319.15h1.50v1.50h-1.50zM594.85 319.15h1.50v1.50h-1.50zM600.85 319.15h1.50v1.50h-1.50zM606.85 319.15h1.50v1.50h-1.50zM612.85 319.15h1.50v1.50h-1.50zM618.85 319.15h1.50v1.50h-1.50zM624.85 319.15h1.50v1.50h-1.50zM584.35 320.65h1.50v1.50h-1.50zM590.35 320.65h1.50v1.50h-1.50zM596.35 320.65h1.50v1.50h-1.50zM602.35 320.65h1.50v1.50h-1.50zM608.35 320.65h1.50v1.50h-1.50zM614.35 320.65h1.50v1.50h-1.50zM620.35 320.65h1.50v1.50h-1.50zM626.35 320.65h1.50v1.50h-1.50zM585.85 322.15h1.50v1.50h-1.50zM591.85 322.15h1.50v1.50h-1.50zM597.85 322.15h1.50v1.50h-1.50zM603.85 322.15h1.50v1.50h-1.50zM609.85 322.15h1.50v1.50h-1.50zM615.85 322.15h1.50v1.50h-1.50zM621.85 322.15h1.50v1.50h-1.50zM587.35 323.65h1.50v1.50h-1.50zM593.35 323.65h1.50v1.50h-1.50zM599.35 323.65h1.50v1.50h-1.50zM605.35 323.65h1.50v1.50h-1.50zM611.35 323.65h1.50v1.50h-1.50zM617.35 323.65h1.50v1.50h-1.50zM623.35 323.65h1.50v1.50h-1.50zM584.30 325.15h0.05v1.50h-0.05zM588.85 325.15h1.50v1.50h-1.50zM594.85 325.15h1.50v1.50h-1.50zM600.85 325.15h1.50v1.50h-1.50zM606.85 325.15h1.50v1.50h-1.50zM612.85 325.15h1.50v1.50h-1.50zM618.85 325.15h1.50v1.50h-1.50zM624.85 325.15h1.50v1.50h-1.50zM584.35 326.65h1.50v1.50h-1.50zM590.35 326.65h1.50v1.50h-1.50zM596.35 326.65h1.50v1.50h-1.50zM602.35 326.65h1.50v1.50h-1.50zM608.35 326.65h1.50v1.50h-1.50zM614.35 326.65h1.50v1.50h-1.50zM620.35 326.65h1.50v1.50h-1.50zM626.35 326.65h1.50v1.50h-1.50zM585.85 328.15h1.50v1.50h-1.50zM591.85 328.15h1.50v1.50h-1.50zM597.85 328.15h1.50v1.50h-1.50zM603.85 328.15h1.50v1.50h-1.50zM609.85 328.15h1.50v1.50h-1.50zM615.85 328.15h1.50v1.50h-1.50zM621.85 328.15h1.50v1.50h-1.50zM587.35 329.65h1.50v1.50h-1.50zM593.35 329.65h1.50v1.50h-1.50zM599.35 329.65h1.50v1.50h-1.50zM605.35 329.65h1.50v1.50h-1.50zM611.35 329.65h1.50v1.50h-1.50zM617.35 329.65h1.50v1.50h-1.50zM623.35 329.65h1.50v1.50h-1.50zM584.30 331.15h0.05v1.50h-0.05zM588.85 331.15h1.50v1.50h-1.50zM594.85 331.15h1.50v1.50h-1.50zM600.85 331.15h1.50v1.50h-1.50zM606.85 331.15h1.50v1.50h-1.50zM612.85 331.15h1.50v1.50h-1.50zM618.85 331.15h1.50v1.50h-1.50zM624.85 331.15h1.50v1.50h-1.50zM584.35 332.65h1.50v1.50h-1.50zM590.35 332.65h1.50v1.50h-1.50zM596.35 332.65h1.50v1.50h-1.50zM602.35 332.65h1.50v1.50h-1.50zM608.35 332.65h1.50v1.50h-1.50zM614.35 332.65h1.50v1.50h-1.50zM620.35 332.65h1.50v1.50h-1.50zM626.35 332.65h1.50v1.50h-1.50zM585.85 334.15h1.50v1.50h-1.50zM591.85 334.15h1.50v1.50h-1.50zM597.85 334.15h1.50v1.50h-1.50zM603.85 334.15h1.50v1.50h-1.50zM609.85 334.15h1.50v1.50h-1.50zM615.85 334.15h1.50v1.50h-1.50zM621.85 334.15h1.50v1.50h-1.50zM587.35 335.65h1.50v1.50h-1.50zM593.35 335.65h1.50v1.50h-1.50zM599.35 335.65h1.50v1.50h-1.50zM605.35 335.65h1.50v1.50h-1.50zM611.35 335.65h1.50v1.50h-1.50zM617.35 335.65h1.50v1.50h-1.50zM623.35 335.65h1.50v1.50h-1.50zM584.30 337.15h0.05v1.50h-0.05zM588.85 337.15h1.50v1.50h-1.50zM594.85 337.15h1.50v1.50h-1.50zM600.85 337.15h1.50v1.50h-1.50zM606.85 337.15h1.50v1.50h-1.50zM612.85 337.15h1.50v1.50h-1.50zM618.85 337.15h1.50v1.50h-1.50zM624.85 337.15h1.50v1.50h-1.50zM584.35 338.65h1.50v1.50h-1.50zM590.35 338.65h1.50v1.50h-1.50zM596.35 338.65h1.50v1.50h-1.50zM602.35 338.65h1.50v1.50h-1.50zM608.35 338.65h1.50v1.50h-1.50zM614.35 338.65h1.50v1.50h-1.50zM620.35 338.65h1.50v1.50h-1.50zM626.35 338.65h1.50v1.50h-1.50zM585.85 340.15h1.50v1.50h-1.50zM591.85 340.15h1.50v1.50h-1.50zM597.85 340.15h1.50v1.50h-1.50zM603.85 340.15h1.50v1.50h-1.50zM609.85 340.15h1.50v1.50h-1.50zM615.85 340.15h1.50v1.50h-1.50zM621.85 340.15h1.50v1.50h-1.50zM587.35 341.65h1.50v1.50h-1.50zM593.35 341.65h1.50v1.50h-1.50zM599.35 341.65h1.50v1.50h-1.50zM605.35 341.65h1.50v1.50h-1.50zM611.35 341.65h1.50v1.50h-1.50zM617.35 341.65h1.50v1.50h-1.50zM623.35 341.65h1.50v1.50h-1.50zM584.30 343.15h0.05v1.50h-0.05zM588.85 343.15h1.50v1.50h-1.50zM594.85 343.15h1.50v1.50h-1.50zM600.85 343.15h1.50v1.50h-1.50zM606.85 343.15h1.50v1.50h-1.50zM612.85 343.15h1.50v1.50h-1.50zM618.85 343.15h1.50v1.50h-1.50zM624.85 343.15h1.50v1.50h-1.50zM584.35 344.65h1.50v1.50h-1.50zM590.35 344.65h1.50v1.50h-1.50zM596.35 344.65h1.50v1.50h-1.50zM602.35 344.65h1.50v1.50h-1.50zM608.35 344.65h1.50v1.50h-1.50zM614.35 344.65h1.50v1.50h-1.50zM620.35 344.65h1.50v1.50h-1.50zM626.35 344.65h1.50v1.50h-1.50zM585.85 346.15h1.50v1.50h-1.50zM591.85 346.15h1.50v1.50h-1.50zM597.85 346.15h1.50v1.50h-1.50zM603.85 346.15h1.50v1.50h-1.50zM609.85 346.15h1.50v1.50h-1.50zM615.85 346.15h1.50v1.50h-1.50zM621.85 346.15h1.50v1.50h-1.50zM587.35 347.65h1.50v1.50h-1.50zM593.35 347.65h1.50v1.50h-1.50zM599.35 347.65h1.50v1.50h-1.50zM605.35 347.65h1.50v1.50h-1.50zM611.35 347.65h1.50v1.50h-1.50zM617.35 347.65h1.50v1.50h-1.50zM623.35 347.65h1.50v1.50h-1.50zM584.30 349.15h0.05v1.50h-0.05zM588.85 349.15h1.50v1.50h-1.50zM594.85 349.15h1.50v1.50h-1.50zM600.85 349.15h1.50v1.50h-1.50zM606.85 349.15h1.50v1.50h-1.50zM612.85 349.15h1.50v1.50h-1.50zM618.85 349.15h1.50v1.50h-1.50zM624.85 349.15h1.50v1.50h-1.50zM584.35 350.65h1.50v1.50h-1.50zM590.35 350.65h1.50v1.50h-1.50zM596.35 350.65h1.50v1.50h-1.50zM602.35 350.65h1.50v1.50h-1.50zM608.35 350.65h1.50v1.50h-1.50zM614.35 350.65h1.50v1.50h-1.50zM620.35 350.65h1.50v1.50h-1.50zM626.35 350.65h1.50v1.50h-1.50zM585.85 352.15h1.50v0.65h-1.50zM591.85 352.15h1.50v0.65h-1.50zM597.85 352.15h1.50v0.65h-1.50zM603.85 352.15h1.50v0.65h-1.50zM609.85 352.15h1.50v0.65h-1.50zM615.85 352.15h1.50v0.65h-1.50zM621.85 352.15h1.50v0.65h-1.50z"/>
<text x="606.1" y="158.30" text-anchor="middle" font-size="19.5" fill="#404040" stroke="#404040" stroke-width="0.15">0.84</text>
<rect x="639.10" y="282.10" width="41.90" height="69.90" fill="#D9D9D9" stroke="#000" stroke-width="1.5"/>
<text x="659.6" y="270.00" text-anchor="middle" font-size="19.5" fill="#404040" stroke="#404040" stroke-width="0.15">0.32</text>
<path d="M53.0,351.5 L53.0,351.50 A4.5,23.0 0 0 0 57.5,374.5 L122.9,374.5 A4.5,23.0 0 0 1 127.4,397.50 L127.4,397.5" fill="none" stroke="#843C0C" stroke-opacity="0.55" stroke-width="2.1"/><path d="M201.0,351.5 L201.0,351.50 A4.5,23.0 0 0 1 196.5,374.5 L131.9,374.5 A4.5,23.0 0 0 0 127.4,397.50 L127.4,397.5" fill="none" stroke="#843C0C" stroke-opacity="0.55" stroke-width="2.1"/><path d="M127.4,381.5 L127.4,397.5" fill="none" stroke="#843C0C" stroke-opacity="0.5" stroke-width="2.8"/>
<path d="M212.0,350.5 L212.0,350.50 A4.5,23.149999999999977 0 0 0 216.5,373.65 L281.9,373.65 A4.5,23.149999999999977 0 0 1 286.4,396.80 L286.4,396.8" fill="none" stroke="#375623" stroke-opacity="0.55" stroke-width="2.1"/><path d="M360.5,350.5 L360.5,350.50 A4.5,23.149999999999977 0 0 1 356.0,373.65 L290.9,373.65 A4.5,23.149999999999977 0 0 0 286.4,396.80 L286.4,396.8" fill="none" stroke="#375623" stroke-opacity="0.55" stroke-width="2.1"/><path d="M286.4,380.65 L286.4,396.8" fill="none" stroke="#375623" stroke-opacity="0.5" stroke-width="2.8"/>
<path d="M373.6,353.5 L373.6,353.50 A4.5,23.25 0 0 0 378.1,376.75 L443.5,376.75 A4.5,23.25 0 0 1 448.0,400.00 L448.0,400.0" fill="none" stroke="#4472C4" stroke-opacity="0.55" stroke-width="2.1"/><path d="M522.2,353.5 L522.2,353.50 A4.5,23.25 0 0 1 517.7,376.75 L452.5,376.75 A4.5,23.25 0 0 0 448.0,400.00 L448.0,400.0" fill="none" stroke="#4472C4" stroke-opacity="0.55" stroke-width="2.1"/><path d="M448.0,383.75 L448.0,400.0" fill="none" stroke="#4472C4" stroke-opacity="0.5" stroke-width="2.8"/>
<path d="M534.0,348.0 L534.0,348.00 A4.5,25.80000000000001 0 0 0 538.5,373.8 L604.1,373.8 A4.5,25.80000000000001 0 0 1 608.6,399.60 L608.6,399.6" fill="none" stroke="#595959" stroke-opacity="0.57" stroke-width="2.1"/><path d="M681.6,348.0 L681.6,348.00 A4.5,25.80000000000001 0 0 1 677.1,373.8 L613.1,373.8 A4.5,25.80000000000001 0 0 0 608.6,399.60 L608.6,399.6" fill="none" stroke="#595959" stroke-opacity="0.57" stroke-width="2.1"/><path d="M608.6,380.8 L608.6,399.6" fill="none" stroke="#595959" stroke-opacity="0.5" stroke-width="2.8"/>
<rect x="99" y="398" width="64" height="63" fill="#843C0C"/>
<rect x="258" y="397" width="64" height="62" fill="#375623"/>
<circle cx="448.1" cy="433.6" r="34.4" fill="#1F4E79"/>
<circle cx="611.2" cy="433.5" r="34.2" fill="#525252"/>
<text x="129.8" y="438.2" text-anchor="middle" font-size="25" font-weight="bold" fill="#fff">T</text>
<text x="289.6" y="436.6" text-anchor="middle" font-size="25" font-weight="bold" fill="#fff">SP</text>
<text x="447.5" y="442.6" text-anchor="middle" font-size="25" font-weight="bold" fill="#fff">T</text>
<text x="610.8" y="442.6" text-anchor="middle" font-size="25" font-weight="bold" fill="#fff">SP</text>
<rect x="58.50" y="3.40" width="10.10" height="9.90" fill="#843C0C"/>
<text x="72.1" y="15.0" font-size="19.5" fill="#595959" stroke="#595959" stroke-width="0.15" textLength="82.15" lengthAdjust="spacing">Sq-T-40-0</text>
<path fill="#C55A11" d="M230.72 2.90h1.50v1.49h-1.50zM227.65 4.39h0.07v1.50h-0.07zM232.22 4.39h1.50v1.50h-1.50zM227.72 5.89h1.50v1.50h-1.50zM233.72 5.89h1.50v1.50h-1.50zM229.22 7.39h1.50v1.50h-1.50zM235.22 7.39h1.50v1.50h-1.50zM230.72 8.89h1.50v1.50h-1.50zM227.65 10.39h0.07v1.50h-0.07zM232.22 10.39h1.50v1.50h-1.50zM227.72 11.89h1.50v1.50h-1.50zM233.72 11.89h1.50v1.50h-1.50zM229.22 13.39h1.50v0.11h-1.50zM235.22 13.39h1.50v0.11h-1.50z"/>
<text x="241.2" y="15.0" font-size="19.5" fill="#595959" stroke="#595959" stroke-width="0.15" textLength="90.20" lengthAdjust="spacing">Sq-T-40-15</text>
<rect x="395.05" y="4.15" width="9.80" height="8.40" fill="#F8CBAD" stroke="#000" stroke-width="1.5"/>
<text x="409.8" y="15.0" font-size="19.5" fill="#595959" stroke="#595959" stroke-width="0.15" textLength="90.00" lengthAdjust="spacing">Sq-T-40-25</text>
<rect x="563.60" y="3.40" width="9.90" height="9.90" fill="#375623"/>
<text x="578.1" y="15.0" font-size="19.5" fill="#595959" stroke="#595959" stroke-width="0.15" textLength="89.92" lengthAdjust="spacing">Sq-Sp-40-0</text>
<path fill="#548235" d="M59.81 35.85h1.50v1.50h-1.50zM65.81 35.85h1.50v1.50h-1.50zM61.31 37.35h1.50v1.50h-1.50zM67.31 37.35h1.50v1.50h-1.50zM58.05 38.85h0.26v1.50h-0.26zM62.81 38.85h1.50v1.50h-1.50zM68.81 38.85h0.14v1.50h-0.14zM58.31 40.35h1.50v1.50h-1.50zM64.31 40.35h1.50v1.50h-1.50zM59.81 41.85h1.50v1.50h-1.50zM65.81 41.85h1.50v1.50h-1.50zM61.31 43.35h1.50v1.50h-1.50zM67.31 43.35h1.50v1.50h-1.50zM58.05 44.85h0.26v1.50h-0.26zM62.81 44.85h1.50v1.50h-1.50zM68.81 44.85h0.14v1.50h-0.14z"/>
<text x="72.1" y="47.8" font-size="19.5" fill="#595959" stroke="#595959" stroke-width="0.15" textLength="99.37" lengthAdjust="spacing">Sq-Sp-40-15</text>
<rect x="227.15" y="37.05" width="9.70" height="7.90" fill="#A9D18E" stroke="#000" stroke-width="1.5"/>
<text x="241.2" y="47.8" font-size="19.5" fill="#595959" stroke="#595959" stroke-width="0.15" textLength="99.27" lengthAdjust="spacing">Sq-Sp-40-25</text>
<rect x="395.90" y="36.30" width="8.40" height="9.80" fill="#1F4E79"/>
<text x="409.8" y="47.8" font-size="19.5" fill="#595959" stroke="#595959" stroke-width="0.15" textLength="73.76" lengthAdjust="spacing">C-T-40-0</text>
<path fill="#2F5597" d="M563.25 35.85h1.50v1.50h-1.50zM569.25 35.85h1.50v1.50h-1.50zM564.75 37.35h1.50v1.50h-1.50zM570.75 37.35h1.50v1.50h-1.50zM566.25 38.85h1.50v1.50h-1.50zM572.25 38.85h1.50v1.50h-1.50zM567.75 40.35h1.50v1.50h-1.50zM573.75 40.35h0.20v1.50h-0.20zM563.25 41.85h1.50v1.50h-1.50zM569.25 41.85h1.50v1.50h-1.50zM564.75 43.35h1.50v1.50h-1.50zM570.75 43.35h1.50v1.50h-1.50zM566.25 44.85h1.50v1.50h-1.50zM572.25 44.85h1.50v1.50h-1.50z"/>
<text x="578.1" y="47.8" font-size="19.5" fill="#595959" stroke="#595959" stroke-width="0.15" textLength="82.31" lengthAdjust="spacing">C-T-40-15</text>
<rect x="59.25" y="70.05" width="8.45" height="7.80" fill="#BDD7EE" stroke="#000" stroke-width="1.5"/>
<text x="72.1" y="81.0" font-size="19.5" fill="#595959" stroke="#595959" stroke-width="0.15" textLength="83.31" lengthAdjust="spacing">C-T-40-25</text>
<rect x="228.05" y="69.30" width="8.40" height="9.30" fill="#000000"/>
<text x="241.2" y="81.0" font-size="19.5" fill="#595959" stroke="#595959" stroke-width="0.15" textLength="81.34" lengthAdjust="spacing">C-Sp-40-0</text>
<path fill="#000000" d="M398.55 68.85h1.50v1.50h-1.50zM404.55 68.85h0.15v1.50h-0.15zM395.45 70.35h0.10v1.50h-0.10zM400.05 70.35h1.50v1.50h-1.50zM395.55 71.85h1.50v1.50h-1.50zM401.55 71.85h1.50v1.50h-1.50zM397.05 73.35h1.50v1.50h-1.50zM403.05 73.35h1.50v1.50h-1.50zM398.55 74.85h1.50v1.50h-1.50zM404.55 74.85h0.15v1.50h-0.15zM395.45 76.35h0.10v1.50h-0.10zM400.05 76.35h1.50v1.50h-1.50zM395.55 77.85h1.50v1.50h-1.50zM401.55 77.85h1.50v1.50h-1.50z"/>
<text x="409.8" y="81.0" font-size="19.5" fill="#595959" stroke="#595959" stroke-width="0.15" textLength="91.59" lengthAdjust="spacing">C-Sp-40-15</text>
<rect x="564.45" y="70.25" width="8.20" height="7.80" fill="#D9D9D9" stroke="#000" stroke-width="1.5"/>
<text x="578.1" y="81.0" font-size="19.5" fill="#595959" stroke="#595959" stroke-width="0.15" textLength="91.09" lengthAdjust="spacing">C-Sp-40-25</text>
<text transform="translate(16,322.5) rotate(-90)" x="0" y="0" font-size="19.5" fill="#6A6A6A">Normalized Total Dissipated Energy</text>
</svg></body></html>
